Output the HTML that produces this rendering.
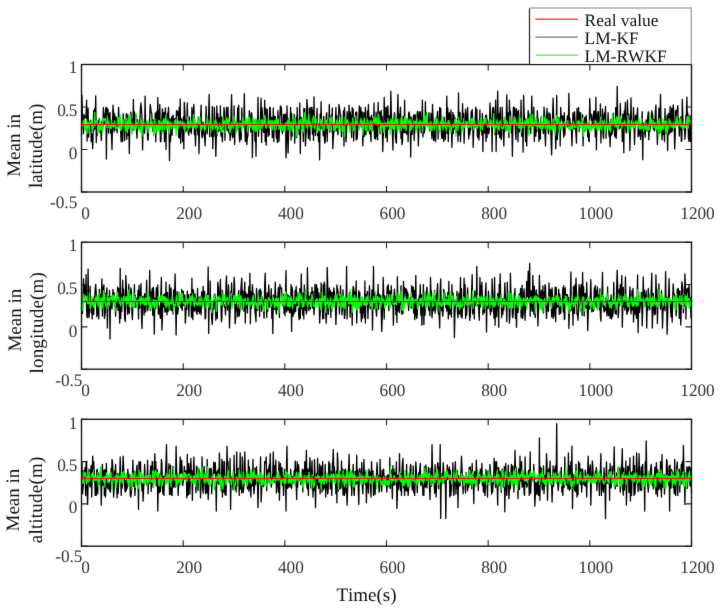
<!DOCTYPE html><html><head><meta charset="utf-8"><style>html,body{margin:0;padding:0;background:#fff}body{width:722px;height:610px;overflow:hidden}svg{display:block}#w{width:722px;height:610px}text{font-family:"Liberation Serif",serif;text-rendering:geometricPrecision;font-kerning:none}</style></head><body>
<div id="w">
<svg width="722" height="610" viewBox="0 0 722 610">
<defs><filter id="bl" x="-1%" y="-1%" width="102%" height="102%" color-interpolation-filters="sRGB"><feConvolveMatrix order="3" kernelMatrix="0.01 0.06 0.01 0.06 0.72 0.06 0.01 0.06 0.01" edgeMode="duplicate" preserveAlpha="true"/></filter></defs><g filter="url(#bl)"><rect x="-10" y="-10" width="742" height="630" fill="#fff"/>
<path d="M81.5 135.3 82.0 95.4 82.5 117.2 83.0 119.4 83.5 133.5 84.0 114.5 84.6 117.9 85.1 117.9 85.6 117.5 86.1 114.2 86.6 100.2 87.1 141.1 87.6 124.1 88.1 108.1 88.6 137.0 89.1 121.5 89.6 130.9 90.1 124.7 90.7 120.1 91.2 141.5 91.7 133.8 92.2 137.6 92.7 148.7 93.2 130.9 93.7 110.3 94.2 130.1 94.7 108.5 95.2 128.3 95.7 95.8 96.3 142.5 96.8 124.4 97.3 135.0 97.8 121.4 98.3 120.9 98.8 122.3 99.3 118.7 99.8 132.2 100.3 127.3 100.8 130.7 101.3 140.4 101.9 121.1 102.4 130.4 102.9 125.2 103.4 107.5 103.9 122.3 104.4 123.5 104.9 114.5 105.4 112.8 105.9 107.5 106.4 159.1 106.9 107.7 107.4 125.7 108.0 109.2 108.5 133.2 109.0 114.1 109.5 117.4 110.0 112.5 110.5 133.1 111.0 127.7 111.5 135.7 112.0 149.4 112.5 124.7 113.0 105.1 113.6 114.1 114.1 131.8 114.6 113.6 115.1 129.9 115.6 121.6 116.1 116.8 116.6 128.3 117.1 132.8 117.6 118.4 118.1 126.2 118.6 107.2 119.1 118.6 119.7 126.5 120.2 120.9 120.7 133.5 121.2 141.8 121.7 133.4 122.2 128.1 122.7 141.5 123.2 113.7 123.7 123.6 124.2 120.2 124.7 140.4 125.3 123.1 125.8 128.2 126.3 113.3 126.8 139.2 127.3 121.2 127.8 114.6 128.3 135.6 128.8 123.5 129.3 153.6 129.8 124.1 130.3 121.4 130.8 112.2 131.4 122.9 131.9 130.9 132.4 119.1 132.9 124.5 133.4 99.5 133.9 130.2 134.4 112.0 134.9 122.9 135.4 122.2 135.9 115.1 136.4 129.5 137.0 138.3 137.5 119.7 138.0 125.3 138.5 124.1 139.0 128.3 139.5 127.4 140.0 116.4 140.5 107.5 141.0 103.0 141.5 110.3 142.0 117.6 142.6 150.1 143.1 122.8 143.6 131.4 144.1 126.4 144.6 133.2 145.1 96.1 145.6 125.2 146.1 122.1 146.6 127.1 147.1 122.7 147.6 139.0 148.1 140.4 148.7 126.0 149.2 124.1 149.7 117.8 150.2 104.4 150.7 107.5 151.2 112.8 151.7 113.0 152.2 123.1 152.7 131.1 153.2 119.8 153.7 131.3 154.3 122.3 154.8 122.3 155.3 112.9 155.8 141.8 156.3 123.1 156.8 111.5 157.3 125.6 157.8 97.7 158.3 129.3 158.8 110.9 159.3 124.2 159.8 104.4 160.4 141.5 160.9 141.8 161.4 121.6 161.9 119.0 162.4 108.9 162.9 131.0 163.4 119.8 163.9 112.4 164.4 141.5 164.9 119.5 165.4 107.9 166.0 149.4 166.5 115.8 167.0 120.6 167.5 113.1 168.0 118.4 168.5 107.2 169.0 125.7 169.5 160.5 170.0 119.0 170.5 141.5 171.0 126.2 171.6 117.2 172.1 135.3 172.6 116.6 173.1 115.3 173.6 123.8 174.1 125.9 174.6 119.3 175.1 118.5 175.6 126.8 176.1 120.3 176.6 110.6 177.1 115.1 177.7 111.4 178.2 112.2 178.7 137.4 179.2 107.5 179.7 138.0 180.2 98.9 180.7 143.2 181.2 118.6 181.7 120.3 182.2 122.2 182.7 141.5 183.3 116.9 183.8 148.7 184.3 102.3 184.8 110.3 185.3 125.9 185.8 131.6 186.3 120.4 186.8 129.5 187.3 103.0 187.8 127.9 188.3 132.9 188.8 135.2 189.4 116.9 189.9 123.5 190.4 131.6 190.9 129.9 191.4 133.5 191.9 107.5 192.4 120.9 192.9 122.8 193.4 110.2 193.9 104.4 194.4 134.7 195.0 129.2 195.5 145.9 196.0 126.4 196.5 127.7 197.0 123.1 197.5 128.7 198.0 134.9 198.5 117.6 199.0 153.6 199.5 127.4 200.0 119.8 200.5 120.7 201.1 105.1 201.6 131.6 202.1 137.9 202.6 136.0 203.1 121.9 203.6 129.4 204.1 133.6 204.6 137.3 205.1 145.9 205.6 128.8 206.1 106.5 206.7 125.6 207.2 133.8 207.7 120.8 208.2 123.7 208.7 112.6 209.2 94.4 209.7 136.7 210.2 126.1 210.7 126.0 211.2 125.7 211.7 136.6 212.3 106.5 212.8 148.7 213.3 121.7 213.8 136.2 214.3 107.5 214.8 118.8 215.3 129.6 215.8 156.3 216.3 139.3 216.8 105.8 217.3 135.1 217.8 113.9 218.4 131.9 218.9 118.0 219.4 122.6 219.9 130.4 220.4 105.8 220.9 136.0 221.4 117.1 221.9 134.2 222.4 141.8 222.9 118.5 223.4 129.4 224.0 107.5 224.5 111.9 225.0 140.3 225.5 123.4 226.0 126.2 226.5 107.5 227.0 130.0 227.5 130.7 228.0 107.2 228.5 126.8 229.0 133.3 229.5 122.4 230.1 140.4 230.6 132.8 231.1 110.5 231.6 94.7 232.1 134.7 232.6 137.8 233.1 127.9 233.6 136.4 234.1 105.8 234.6 144.6 235.1 126.2 235.7 130.0 236.2 123.0 236.7 130.1 237.2 124.1 237.7 107.8 238.2 125.0 238.7 105.1 239.2 135.4 239.7 141.8 240.2 126.3 240.7 120.9 241.2 139.8 241.8 107.9 242.3 123.8 242.8 119.8 243.3 122.3 243.8 127.3 244.3 93.6 244.8 125.0 245.3 141.5 245.8 136.7 246.3 125.2 246.8 144.6 247.4 137.2 247.9 136.1 248.4 121.3 248.9 122.3 249.4 110.6 249.9 118.0 250.4 124.1 250.9 132.1 251.4 112.7 251.9 114.9 252.4 157.7 253.0 120.1 253.5 123.0 254.0 122.0 254.5 121.1 255.0 141.2 255.5 125.4 256.0 156.3 256.5 120.4 257.0 120.9 257.5 126.8 258.0 97.5 258.5 136.3 259.1 121.2 259.6 128.2 260.1 127.1 260.6 113.8 261.1 98.2 261.6 142.5 262.1 108.0 262.6 117.2 263.1 123.5 263.6 132.4 264.1 132.4 264.7 100.2 265.2 141.5 265.7 108.2 266.2 145.2 266.7 127.7 267.2 109.2 267.7 122.2 268.2 136.3 268.7 130.9 269.2 134.9 269.7 107.2 270.2 107.5 270.8 123.8 271.3 126.6 271.8 117.4 272.3 137.6 272.8 131.4 273.3 107.9 273.8 141.5 274.3 116.3 274.8 127.5 275.3 116.6 275.8 124.9 276.4 138.0 276.9 130.9 277.4 142.5 277.9 110.6 278.4 120.4 278.9 141.5 279.4 132.5 279.9 115.9 280.4 105.8 280.9 114.9 281.4 107.2 282.0 130.6 282.5 133.5 283.0 129.5 283.5 114.3 284.0 128.2 284.5 120.9 285.0 114.5 285.5 114.0 286.0 157.7 286.5 141.5 287.0 105.8 287.5 129.4 288.1 152.9 288.6 131.6 289.1 128.1 289.6 123.0 290.1 124.3 290.6 107.5 291.1 140.2 291.6 113.4 292.1 136.2 292.6 119.8 293.1 123.6 293.7 122.1 294.2 114.3 294.7 143.2 295.2 129.2 295.7 125.0 296.2 117.5 296.7 137.6 297.2 107.5 297.7 127.4 298.2 130.0 298.7 127.4 299.2 134.5 299.8 103.0 300.3 153.6 300.8 119.7 301.3 117.3 301.8 127.9 302.3 127.0 302.8 120.0 303.3 141.5 303.8 108.5 304.3 114.4 304.8 108.7 305.4 145.9 305.9 137.2 306.4 130.0 306.9 99.5 307.4 107.5 307.9 125.9 308.4 138.4 308.9 122.8 309.4 107.9 309.9 140.4 310.4 120.8 310.9 107.5 311.5 124.3 312.0 107.5 312.5 134.4 313.0 110.5 313.5 140.4 314.0 96.8 314.5 131.5 315.0 125.6 315.5 135.5 316.0 123.9 316.5 121.6 317.1 108.5 317.6 135.7 318.1 131.1 318.6 141.5 319.1 123.7 319.6 159.8 320.1 114.5 320.6 129.5 321.1 101.6 321.6 128.0 322.1 124.7 322.7 126.4 323.2 135.7 323.7 116.4 324.2 132.7 324.7 143.2 325.2 141.5 325.7 129.3 326.2 116.8 326.7 112.7 327.2 141.5 327.7 122.8 328.2 123.0 328.8 122.2 329.3 104.4 329.8 132.2 330.3 123.0 330.8 119.5 331.3 115.5 331.8 125.6 332.3 107.9 332.8 148.7 333.3 137.8 333.8 131.5 334.4 130.9 334.9 124.9 335.4 123.1 335.9 107.5 336.4 130.7 336.9 115.7 337.4 128.4 337.9 134.7 338.4 128.1 338.9 104.4 339.4 107.5 339.9 110.7 340.5 116.4 341.0 125.2 341.5 136.6 342.0 127.4 342.5 130.3 343.0 131.5 343.5 110.6 344.0 145.9 344.5 107.5 345.0 126.1 345.5 123.3 346.1 141.8 346.6 130.4 347.1 111.7 347.6 119.2 348.1 123.2 348.6 118.8 349.1 105.1 349.6 126.1 350.1 112.0 350.6 114.6 351.1 122.4 351.7 137.4 352.2 107.5 352.7 119.5 353.2 109.2 353.7 141.1 354.2 118.1 354.7 118.0 355.2 120.5 355.7 112.3 356.2 139.8 356.7 112.0 357.2 139.0 357.8 128.1 358.3 123.5 358.8 119.3 359.3 105.8 359.8 126.9 360.3 117.8 360.8 107.5 361.3 117.0 361.8 126.8 362.3 111.9 362.8 145.9 363.4 130.7 363.9 112.7 364.4 136.2 364.9 118.8 365.4 107.5 365.9 134.7 366.4 127.8 366.9 131.1 367.4 110.9 367.9 130.2 368.4 104.4 368.9 119.9 369.5 133.5 370.0 117.2 370.5 132.8 371.0 141.5 371.5 115.1 372.0 123.8 372.5 118.4 373.0 130.1 373.5 124.5 374.0 103.0 374.5 138.3 375.1 126.4 375.6 139.1 376.1 112.1 376.6 136.2 377.1 133.5 377.6 139.9 378.1 102.3 378.6 123.1 379.1 126.1 379.6 112.0 380.1 133.8 380.6 117.3 381.2 110.3 381.7 129.9 382.2 116.3 382.7 151.5 383.2 137.2 383.7 130.3 384.2 97.5 384.7 119.6 385.2 107.5 385.7 137.6 386.2 124.3 386.8 107.5 387.3 141.8 387.8 105.8 388.3 118.8 388.8 129.1 389.3 115.9 389.8 120.9 390.3 125.3 390.8 91.2 391.3 112.3 391.8 123.0 392.4 131.5 392.9 150.1 393.4 121.6 393.9 120.3 394.4 112.7 394.9 116.0 395.4 135.8 395.9 141.4 396.4 143.2 396.9 121.3 397.4 115.4 397.9 94.4 398.5 127.9 399.0 114.7 399.5 124.9 400.0 113.8 400.5 107.2 401.0 138.4 401.5 132.0 402.0 144.6 402.5 141.5 403.0 116.5 403.5 125.9 404.1 132.7 404.6 100.2 405.1 132.7 405.6 130.4 406.1 127.2 406.6 134.2 407.1 119.3 407.6 120.5 408.1 141.5 408.6 113.4 409.1 112.0 409.6 115.6 410.2 119.8 410.7 157.0 411.2 117.2 411.7 128.7 412.2 134.4 412.7 124.0 413.2 118.2 413.7 114.8 414.2 140.4 414.7 118.8 415.2 114.7 415.8 129.6 416.3 122.5 416.8 124.4 417.3 111.9 417.8 111.3 418.3 145.9 418.8 132.3 419.3 112.9 419.8 111.7 420.3 112.1 420.8 126.5 421.3 132.7 421.9 117.7 422.4 100.2 422.9 136.9 423.4 130.9 423.9 121.3 424.4 132.9 424.9 128.3 425.4 101.6 425.9 125.2 426.4 112.8 426.9 122.4 427.5 120.6 428.0 122.8 428.5 121.0 429.0 112.7 429.5 130.7 430.0 122.8 430.5 129.1 431.0 113.2 431.5 132.1 432.0 138.8 432.5 104.4 433.1 120.2 433.6 140.4 434.1 121.9 434.6 124.6 435.1 139.6 435.6 141.5 436.1 121.2 436.6 124.5 437.1 116.6 437.6 111.3 438.1 139.0 438.6 123.4 439.2 120.3 439.7 107.5 440.2 124.7 440.7 108.5 441.2 128.5 441.7 138.3 442.2 125.3 442.7 138.3 443.2 134.6 443.7 141.5 444.2 117.2 444.8 125.5 445.3 139.7 445.8 129.8 446.3 128.2 446.8 96.1 447.3 133.4 447.8 108.2 448.3 141.5 448.8 121.0 449.3 112.7 449.8 128.8 450.3 123.2 450.9 109.8 451.4 124.4 451.9 147.3 452.4 131.1 452.9 112.4 453.4 133.6 453.9 114.8 454.4 128.6 454.9 117.6 455.4 129.4 455.9 130.9 456.5 132.8 457.0 127.0 457.5 119.0 458.0 141.5 458.5 93.0 459.0 135.0 459.5 121.2 460.0 112.5 460.5 141.8 461.0 127.4 461.5 121.8 462.1 120.1 462.6 103.7 463.1 129.0 463.6 113.4 464.1 143.2 464.6 125.9 465.1 119.9 465.6 109.2 466.1 117.4 466.6 120.4 467.1 121.5 467.6 107.5 468.2 123.8 468.7 138.9 469.2 126.3 469.7 134.9 470.2 129.6 470.7 129.9 471.2 111.3 471.7 119.0 472.2 109.3 472.7 121.9 473.2 147.3 473.8 126.5 474.3 127.1 474.8 127.5 475.3 117.2 475.8 107.2 476.3 125.8 476.8 109.5 477.3 135.0 477.8 137.6 478.3 124.2 478.8 140.0 479.3 133.1 479.9 109.9 480.4 130.8 480.9 123.7 481.4 125.2 481.9 135.1 482.4 113.5 482.9 151.5 483.4 120.5 483.9 119.6 484.4 132.2 484.9 133.3 485.5 115.6 486.0 141.5 486.5 115.2 487.0 137.6 487.5 119.9 488.0 124.4 488.5 133.8 489.0 132.5 489.5 125.8 490.0 103.0 490.5 112.8 491.0 121.8 491.6 119.3 492.1 151.5 492.6 107.9 493.1 119.6 493.6 107.5 494.1 115.1 494.6 123.9 495.1 134.7 495.6 100.2 496.1 151.5 496.6 121.2 497.2 114.7 497.7 91.2 498.2 134.3 498.7 133.4 499.2 113.4 499.7 137.6 500.2 107.5 500.7 131.7 501.2 139.6 501.7 135.4 502.2 107.2 502.8 128.1 503.3 121.5 503.8 145.9 504.3 127.0 504.8 131.4 505.3 121.5 505.8 129.1 506.3 115.5 506.8 95.0 507.3 130.0 507.8 113.0 508.3 113.1 508.9 137.6 509.4 100.2 509.9 115.0 510.4 111.2 510.9 122.0 511.4 132.9 511.9 125.6 512.4 156.3 512.9 123.2 513.4 107.2 513.9 115.1 514.5 107.5 515.0 109.8 515.5 132.6 516.0 139.5 516.5 108.7 517.0 120.8 517.5 112.0 518.0 141.8 518.5 110.5 519.0 129.0 519.5 131.9 520.0 126.3 520.6 123.5 521.1 100.2 521.6 136.2 522.1 124.7 522.6 124.0 523.1 152.2 523.6 95.4 524.1 113.6 524.6 119.4 525.1 118.6 525.6 141.5 526.2 123.8 526.7 145.9 527.2 123.5 527.7 121.3 528.2 110.6 528.7 120.3 529.2 114.3 529.7 129.4 530.2 114.3 530.7 133.5 531.2 122.5 531.8 96.1 532.3 124.6 532.8 126.2 533.3 121.9 533.8 107.2 534.3 141.5 534.8 125.4 535.3 132.0 535.8 136.2 536.3 122.9 536.8 131.5 537.3 110.6 537.9 123.2 538.4 119.3 538.9 141.5 539.4 127.9 539.9 133.7 540.4 139.0 540.9 117.5 541.4 126.8 541.9 125.5 542.4 125.5 542.9 129.3 543.5 133.5 544.0 107.2 544.5 113.9 545.0 134.1 545.5 145.9 546.0 116.7 546.5 119.4 547.0 108.5 547.5 119.2 548.0 130.2 548.5 133.9 549.0 112.7 549.6 118.7 550.1 114.0 550.6 124.5 551.1 141.5 551.6 154.9 552.1 131.0 552.6 115.1 553.1 98.2 553.6 115.8 554.1 122.3 554.6 121.8 555.2 122.0 555.7 148.7 556.2 134.5 556.7 95.4 557.2 139.6 557.7 131.1 558.2 131.3 558.7 117.5 559.2 132.2 559.7 118.9 560.2 145.9 560.7 107.5 561.3 118.2 561.8 116.1 562.3 120.8 562.8 115.8 563.3 131.0 563.8 137.2 564.3 112.7 564.8 134.9 565.3 125.8 565.8 126.6 566.3 125.7 566.9 122.6 567.4 115.8 567.9 127.3 568.4 121.1 568.9 93.3 569.4 125.9 569.9 118.5 570.4 129.8 570.9 123.6 571.4 126.6 571.9 145.9 572.5 127.5 573.0 112.7 573.5 121.8 574.0 129.1 574.5 111.6 575.0 120.3 575.5 128.2 576.0 134.6 576.5 143.2 577.0 108.5 577.5 125.5 578.0 123.3 578.6 107.5 579.1 131.6 579.6 122.2 580.1 112.7 580.6 112.9 581.1 125.4 581.6 121.4 582.1 126.5 582.6 114.7 583.1 145.9 583.6 121.5 584.2 131.1 584.7 117.3 585.2 130.7 585.7 121.8 586.2 115.5 586.7 125.3 587.2 125.0 587.7 136.8 588.2 130.2 588.7 141.0 589.2 141.5 589.7 98.7 590.3 114.2 590.8 114.2 591.3 120.1 591.8 115.0 592.3 124.4 592.8 125.6 593.3 119.4 593.8 111.4 594.3 111.0 594.8 120.1 595.3 136.8 595.9 97.2 596.4 149.8 596.9 114.4 597.4 124.7 597.9 111.8 598.4 111.7 598.9 125.8 599.4 118.0 599.9 124.6 600.4 104.0 600.9 142.9 601.4 122.4 602.0 122.2 602.5 108.9 603.0 132.9 603.5 138.5 604.0 115.5 604.5 112.9 605.0 118.3 605.5 106.3 606.0 138.3 606.5 121.8 607.0 122.9 607.6 126.8 608.1 112.7 608.6 129.2 609.1 136.3 609.6 123.9 610.1 146.7 610.6 132.6 611.1 118.8 611.6 135.1 612.1 133.4 612.6 129.9 613.2 113.2 613.7 128.3 614.2 127.6 614.7 136.2 615.2 137.0 615.7 107.5 616.2 138.3 616.7 128.2 617.2 86.5 617.7 122.5 618.2 123.2 618.7 127.9 619.3 126.9 619.8 128.6 620.3 103.3 620.8 127.2 621.3 120.3 621.8 119.7 622.3 141.5 622.8 114.0 623.3 122.3 623.8 152.8 624.3 110.8 624.9 115.5 625.4 102.5 625.9 130.4 626.4 132.8 626.9 125.9 627.4 100.2 627.9 115.3 628.4 118.6 628.9 114.5 629.4 122.6 629.9 150.5 630.4 126.7 631.0 98.0 631.5 126.0 632.0 121.3 632.5 122.5 633.0 124.6 633.5 107.5 634.0 123.4 634.5 144.4 635.0 126.4 635.5 115.2 636.0 116.5 636.6 123.6 637.1 114.8 637.6 107.9 638.1 136.5 638.6 136.1 639.1 133.4 639.6 123.4 640.1 131.5 640.6 139.4 641.1 130.4 641.6 125.0 642.2 111.7 642.7 159.7 643.2 126.3 643.7 123.1 644.2 126.6 644.7 132.2 645.2 137.2 645.7 125.5 646.2 119.9 646.7 130.6 647.2 130.1 647.7 117.4 648.3 111.7 648.8 139.8 649.3 130.0 649.8 131.6 650.3 127.5 650.8 123.3 651.3 121.9 651.8 110.9 652.3 113.2 652.8 116.9 653.3 129.0 653.9 120.0 654.4 130.9 654.9 125.5 655.4 111.4 655.9 104.8 656.4 129.8 656.9 129.3 657.4 144.4 657.9 122.2 658.4 125.8 658.9 108.2 659.4 133.2 660.0 117.7 660.5 94.4 661.0 121.2 661.5 126.1 662.0 139.8 662.5 130.3 663.0 127.4 663.5 134.4 664.0 130.5 664.5 141.5 665.0 108.6 665.6 133.1 666.1 127.6 666.6 132.8 667.1 115.1 667.6 150.5 668.1 126.1 668.6 113.3 669.1 134.2 669.6 123.3 670.1 106.3 670.6 132.6 671.1 131.8 671.7 108.2 672.2 131.2 672.7 117.7 673.2 104.8 673.7 111.1 674.2 126.5 674.7 149.0 675.2 135.2 675.7 110.7 676.2 118.3 676.7 110.3 677.3 109.4 677.8 105.6 678.3 124.2 678.8 118.6 679.3 136.0 679.8 127.1 680.3 124.3 680.8 117.0 681.3 141.4 681.8 141.0 682.3 99.5 682.9 118.8 683.4 128.2 683.9 129.1 684.4 124.5 684.9 139.2 685.4 132.0 685.9 115.1 686.4 115.0 686.9 97.2 687.4 119.9 687.9 113.1 688.4 137.8 689.0 141.4 689.5 129.6 690.0 115.5 690.5 141.5 691.0 118.6 691.5 117.8" fill="none" stroke="#000" stroke-width="1.3" stroke-linejoin="round"/>
<path d="M81.5 123.2 82.0 126.3 82.5 126.6 83.0 123.3 83.5 120.2 84.0 122.9 84.6 125.7 85.1 130.8 85.6 127.8 86.1 127.3 86.6 119.6 87.1 133.6 87.6 122.2 88.1 126.6 88.6 122.4 89.1 132.7 89.6 125.3 90.1 122.1 90.7 124.4 91.2 120.5 91.7 122.7 92.2 123.4 92.7 130.0 93.2 126.4 93.7 127.4 94.2 125.2 94.7 112.6 95.2 125.8 95.7 121.4 96.3 122.0 96.8 120.9 97.3 121.4 97.8 133.5 98.3 124.3 98.8 131.5 99.3 131.2 99.8 119.8 100.3 124.9 100.8 129.7 101.3 130.0 101.9 123.7 102.4 132.8 102.9 117.8 103.4 121.2 103.9 119.9 104.4 118.8 104.9 120.2 105.4 118.5 105.9 125.8 106.4 123.4 106.9 127.8 107.4 116.0 108.0 123.2 108.5 121.9 109.0 127.7 109.5 125.9 110.0 125.7 110.5 128.0 111.0 129.0 111.5 120.1 112.0 126.8 112.5 123.3 113.0 124.4 113.6 126.8 114.1 126.4 114.6 120.9 115.1 124.4 115.6 129.0 116.1 128.2 116.6 127.2 117.1 128.9 117.6 118.9 118.1 124.6 118.6 117.3 119.1 128.0 119.7 127.0 120.2 114.8 120.7 130.7 121.2 127.7 121.7 128.7 122.2 125.5 122.7 123.2 123.2 120.3 123.7 119.8 124.2 126.5 124.7 123.8 125.3 130.5 125.8 122.2 126.3 131.2 126.8 117.9 127.3 133.2 127.8 121.4 128.3 123.6 128.8 128.7 129.3 115.3 129.8 126.7 130.3 115.0 130.8 125.2 131.4 123.4 131.9 133.9 132.4 127.5 132.9 123.7 133.4 128.1 133.9 127.8 134.4 129.7 134.9 125.5 135.4 127.6 135.9 113.1 136.4 128.2 137.0 124.4 137.5 122.5 138.0 125.0 138.5 122.7 139.0 130.0 139.5 128.5 140.0 129.7 140.5 132.2 141.0 121.4 141.5 125.0 142.0 136.4 142.6 126.0 143.1 119.6 143.6 126.2 144.1 123.3 144.6 123.2 145.1 123.9 145.6 129.1 146.1 127.8 146.6 126.9 147.1 120.7 147.6 126.2 148.1 132.8 148.7 121.7 149.2 126.9 149.7 126.6 150.2 126.9 150.7 120.0 151.2 126.3 151.7 126.3 152.2 121.7 152.7 125.5 153.2 130.6 153.7 136.1 154.3 124.4 154.8 118.4 155.3 133.4 155.8 132.6 156.3 129.6 156.8 123.8 157.3 124.7 157.8 131.7 158.3 126.7 158.8 120.3 159.3 129.4 159.8 120.6 160.4 129.3 160.9 127.4 161.4 122.2 161.9 124.8 162.4 133.3 162.9 120.4 163.4 122.9 163.9 118.7 164.4 129.8 164.9 119.0 165.4 124.3 166.0 115.0 166.5 129.2 167.0 127.8 167.5 125.5 168.0 129.2 168.5 121.3 169.0 122.5 169.5 133.7 170.0 126.5 170.5 122.1 171.0 123.1 171.6 128.7 172.1 124.0 172.6 124.4 173.1 126.4 173.6 124.1 174.1 128.6 174.6 120.7 175.1 127.0 175.6 119.6 176.1 135.8 176.6 125.9 177.1 124.5 177.7 123.8 178.2 128.4 178.7 121.3 179.2 125.4 179.7 125.9 180.2 120.9 180.7 121.2 181.2 123.7 181.7 126.0 182.2 125.5 182.7 121.7 183.3 123.5 183.8 129.0 184.3 123.0 184.8 131.1 185.3 125.1 185.8 124.8 186.3 124.0 186.8 126.3 187.3 127.6 187.8 116.9 188.3 130.0 188.8 125.6 189.4 121.3 189.9 127.6 190.4 125.8 190.9 120.6 191.4 123.3 191.9 126.8 192.4 127.9 192.9 126.3 193.4 114.4 193.9 127.6 194.4 125.7 195.0 119.1 195.5 128.9 196.0 126.6 196.5 125.7 197.0 123.6 197.5 127.1 198.0 116.4 198.5 123.5 199.0 121.7 199.5 124.9 200.0 117.0 200.5 130.2 201.1 131.2 201.6 125.3 202.1 128.2 202.6 124.7 203.1 125.2 203.6 124.7 204.1 129.1 204.6 126.2 205.1 123.6 205.6 129.8 206.1 125.4 206.7 123.2 207.2 117.1 207.7 121.0 208.2 125.9 208.7 126.7 209.2 123.2 209.7 122.7 210.2 119.3 210.7 132.6 211.2 120.8 211.7 123.6 212.3 125.6 212.8 129.7 213.3 126.8 213.8 125.0 214.3 121.4 214.8 120.8 215.3 128.8 215.8 119.7 216.3 127.1 216.8 122.7 217.3 134.2 217.8 126.3 218.4 129.1 218.9 126.9 219.4 125.6 219.9 122.9 220.4 126.0 220.9 130.6 221.4 127.2 221.9 132.4 222.4 131.8 222.9 116.2 223.4 126.1 224.0 121.2 224.5 122.5 225.0 121.2 225.5 133.2 226.0 121.9 226.5 117.9 227.0 118.9 227.5 124.2 228.0 120.2 228.5 128.1 229.0 118.2 229.5 128.1 230.1 132.6 230.6 125.5 231.1 129.6 231.6 122.4 232.1 124.5 232.6 126.6 233.1 124.3 233.6 128.6 234.1 116.1 234.6 125.0 235.1 120.0 235.7 123.0 236.2 132.5 236.7 123.3 237.2 125.2 237.7 122.2 238.2 127.8 238.7 126.1 239.2 124.2 239.7 123.4 240.2 126.0 240.7 123.1 241.2 125.7 241.8 131.8 242.3 120.8 242.8 117.1 243.3 122.4 243.8 127.6 244.3 124.6 244.8 121.1 245.3 122.9 245.8 122.9 246.3 120.8 246.8 118.5 247.4 131.6 247.9 127.1 248.4 125.3 248.9 117.0 249.4 117.4 249.9 118.7 250.4 127.2 250.9 122.6 251.4 126.5 251.9 124.3 252.4 129.6 253.0 117.6 253.5 125.8 254.0 129.9 254.5 120.7 255.0 119.4 255.5 131.5 256.0 118.4 256.5 126.6 257.0 131.4 257.5 122.9 258.0 129.8 258.5 120.2 259.1 125.6 259.6 124.3 260.1 129.3 260.6 128.7 261.1 119.9 261.6 119.8 262.1 128.0 262.6 119.8 263.1 123.6 263.6 125.9 264.1 123.7 264.7 115.2 265.2 117.9 265.7 127.8 266.2 128.2 266.7 124.4 267.2 124.1 267.7 124.7 268.2 118.9 268.7 120.8 269.2 125.2 269.7 128.0 270.2 120.5 270.8 121.2 271.3 126.8 271.8 127.7 272.3 120.5 272.8 129.9 273.3 122.1 273.8 122.5 274.3 120.9 274.8 129.5 275.3 124.7 275.8 119.7 276.4 121.1 276.9 119.1 277.4 125.7 277.9 123.3 278.4 119.1 278.9 129.4 279.4 127.7 279.9 124.8 280.4 128.9 280.9 123.6 281.4 128.1 282.0 124.2 282.5 130.3 283.0 129.2 283.5 128.1 284.0 124.4 284.5 125.1 285.0 132.1 285.5 122.3 286.0 126.0 286.5 124.8 287.0 123.5 287.5 120.7 288.1 130.2 288.6 117.8 289.1 122.2 289.6 125.9 290.1 129.1 290.6 123.6 291.1 121.4 291.6 126.0 292.1 131.3 292.6 132.0 293.1 116.4 293.7 126.0 294.2 123.8 294.7 124.5 295.2 117.0 295.7 124.0 296.2 136.4 296.7 128.7 297.2 125.5 297.7 132.5 298.2 123.7 298.7 120.0 299.2 128.8 299.8 122.1 300.3 121.4 300.8 119.4 301.3 125.4 301.8 127.1 302.3 130.1 302.8 119.2 303.3 132.1 303.8 124.7 304.3 112.6 304.8 118.4 305.4 123.1 305.9 118.6 306.4 127.2 306.9 121.3 307.4 128.7 307.9 125.1 308.4 118.2 308.9 113.9 309.4 126.2 309.9 122.2 310.4 121.9 310.9 130.1 311.5 127.5 312.0 127.7 312.5 119.3 313.0 118.9 313.5 115.8 314.0 117.9 314.5 128.2 315.0 129.0 315.5 117.0 316.0 119.3 316.5 121.5 317.1 121.8 317.6 132.5 318.1 125.7 318.6 130.7 319.1 128.4 319.6 130.5 320.1 125.1 320.6 119.2 321.1 124.9 321.6 125.4 322.1 119.9 322.7 127.1 323.2 129.9 323.7 130.1 324.2 125.0 324.7 123.9 325.2 124.8 325.7 121.1 326.2 119.9 326.7 122.4 327.2 128.7 327.7 123.5 328.2 125.4 328.8 128.6 329.3 129.8 329.8 117.6 330.3 120.1 330.8 119.0 331.3 132.0 331.8 116.3 332.3 121.7 332.8 123.1 333.3 123.4 333.8 130.4 334.4 125.4 334.9 125.1 335.4 131.1 335.9 124.7 336.4 120.6 336.9 127.7 337.4 118.9 337.9 125.7 338.4 121.9 338.9 130.7 339.4 122.3 339.9 124.0 340.5 123.9 341.0 119.2 341.5 115.4 342.0 131.5 342.5 121.7 343.0 131.2 343.5 128.4 344.0 126.5 344.5 136.4 345.0 117.0 345.5 124.2 346.1 124.1 346.6 122.1 347.1 120.2 347.6 119.5 348.1 123.2 348.6 122.2 349.1 126.5 349.6 129.4 350.1 132.4 350.6 124.1 351.1 124.3 351.7 123.1 352.2 125.2 352.7 117.8 353.2 126.4 353.7 130.5 354.2 128.8 354.7 129.1 355.2 121.1 355.7 116.0 356.2 125.0 356.7 122.5 357.2 121.4 357.8 125.0 358.3 125.3 358.8 125.4 359.3 129.8 359.8 125.5 360.3 120.3 360.8 118.4 361.3 123.0 361.8 126.9 362.3 121.2 362.8 135.0 363.4 126.6 363.9 120.1 364.4 118.0 364.9 124.6 365.4 130.0 365.9 123.6 366.4 130.1 366.9 131.2 367.4 119.2 367.9 121.3 368.4 124.6 368.9 122.8 369.5 130.4 370.0 127.1 370.5 120.3 371.0 129.4 371.5 123.4 372.0 132.3 372.5 121.4 373.0 121.8 373.5 121.5 374.0 116.3 374.5 123.0 375.1 118.0 375.6 123.6 376.1 119.3 376.6 117.9 377.1 125.0 377.6 125.7 378.1 124.8 378.6 114.5 379.1 123.2 379.6 122.2 380.1 120.8 380.6 131.9 381.2 123.4 381.7 129.1 382.2 122.9 382.7 127.0 383.2 123.6 383.7 132.5 384.2 130.2 384.7 129.4 385.2 122.3 385.7 126.2 386.2 126.2 386.8 123.4 387.3 126.5 387.8 118.5 388.3 126.1 388.8 121.6 389.3 122.2 389.8 123.6 390.3 134.3 390.8 118.8 391.3 123.4 391.8 127.3 392.4 119.0 392.9 128.8 393.4 123.2 393.9 129.4 394.4 121.0 394.9 128.8 395.4 114.0 395.9 125.0 396.4 125.3 396.9 119.2 397.4 132.4 397.9 119.4 398.5 128.8 399.0 126.3 399.5 131.9 400.0 128.5 400.5 123.3 401.0 118.1 401.5 125.1 402.0 127.1 402.5 121.9 403.0 119.5 403.5 127.5 404.1 128.8 404.6 116.9 405.1 116.5 405.6 128.9 406.1 130.6 406.6 123.1 407.1 118.1 407.6 118.7 408.1 120.1 408.6 123.3 409.1 124.2 409.6 121.4 410.2 131.1 410.7 119.7 411.2 122.7 411.7 129.1 412.2 128.2 412.7 123.6 413.2 126.4 413.7 121.1 414.2 121.4 414.7 123.2 415.2 121.5 415.8 132.8 416.3 123.3 416.8 117.9 417.3 128.7 417.8 127.4 418.3 125.0 418.8 122.5 419.3 122.0 419.8 127.9 420.3 120.3 420.8 124.5 421.3 125.0 421.9 122.3 422.4 132.0 422.9 121.5 423.4 125.1 423.9 125.1 424.4 113.0 424.9 125.9 425.4 116.4 425.9 125.7 426.4 119.4 426.9 113.9 427.5 123.8 428.0 126.9 428.5 124.0 429.0 128.8 429.5 122.5 430.0 129.8 430.5 125.6 431.0 121.3 431.5 130.5 432.0 130.5 432.5 126.8 433.1 126.2 433.6 122.3 434.1 127.6 434.6 130.0 435.1 117.5 435.6 121.0 436.1 124.1 436.6 126.3 437.1 118.6 437.6 121.0 438.1 122.0 438.6 127.5 439.2 132.8 439.7 130.7 440.2 130.7 440.7 121.5 441.2 125.1 441.7 120.4 442.2 116.0 442.7 129.3 443.2 125.1 443.7 127.2 444.2 122.1 444.8 126.1 445.3 122.3 445.8 128.5 446.3 130.9 446.8 124.6 447.3 122.4 447.8 126.2 448.3 120.4 448.8 121.2 449.3 128.2 449.8 122.1 450.3 131.2 450.9 133.3 451.4 129.1 451.9 126.0 452.4 125.2 452.9 126.4 453.4 127.8 453.9 123.2 454.4 126.0 454.9 119.2 455.4 118.8 455.9 136.4 456.5 124.8 457.0 122.8 457.5 120.8 458.0 130.4 458.5 117.5 459.0 125.9 459.5 120.9 460.0 121.7 460.5 122.2 461.0 123.9 461.5 128.5 462.1 123.4 462.6 123.1 463.1 132.0 463.6 118.6 464.1 124.6 464.6 127.5 465.1 125.1 465.6 124.8 466.1 122.9 466.6 122.4 467.1 121.7 467.6 127.2 468.2 127.6 468.7 127.3 469.2 120.8 469.7 126.2 470.2 127.0 470.7 123.3 471.2 118.5 471.7 125.6 472.2 122.8 472.7 118.2 473.2 126.1 473.8 129.7 474.3 123.0 474.8 121.3 475.3 125.6 475.8 126.0 476.3 125.3 476.8 127.0 477.3 128.1 477.8 124.1 478.3 126.2 478.8 120.3 479.3 125.4 479.9 123.7 480.4 131.1 480.9 117.6 481.4 126.8 481.9 120.9 482.4 129.6 482.9 125.0 483.4 123.6 483.9 119.4 484.4 124.2 484.9 119.4 485.5 118.1 486.0 120.0 486.5 124.1 487.0 125.4 487.5 127.1 488.0 126.9 488.5 124.4 489.0 123.1 489.5 127.5 490.0 120.9 490.5 119.5 491.0 120.3 491.6 123.9 492.1 126.9 492.6 127.0 493.1 122.6 493.6 113.6 494.1 120.3 494.6 132.6 495.1 125.6 495.6 126.8 496.1 127.5 496.6 122.0 497.2 119.6 497.7 129.4 498.2 124.5 498.7 122.9 499.2 130.5 499.7 122.1 500.2 122.2 500.7 120.2 501.2 126.3 501.7 128.2 502.2 128.7 502.8 127.0 503.3 125.9 503.8 128.9 504.3 117.2 504.8 122.1 505.3 119.6 505.8 131.7 506.3 120.9 506.8 125.6 507.3 122.0 507.8 129.8 508.3 131.8 508.9 125.2 509.4 132.7 509.9 115.9 510.4 128.4 510.9 125.1 511.4 122.5 511.9 122.9 512.4 122.2 512.9 122.5 513.4 124.5 513.9 119.7 514.5 122.2 515.0 124.1 515.5 118.2 516.0 125.2 516.5 125.3 517.0 124.6 517.5 123.0 518.0 124.6 518.5 127.7 519.0 122.0 519.5 114.8 520.0 128.9 520.6 118.0 521.1 132.3 521.6 122.7 522.1 127.6 522.6 123.3 523.1 123.9 523.6 122.7 524.1 127.8 524.6 125.9 525.1 120.9 525.6 124.9 526.2 124.9 526.7 119.3 527.2 125.3 527.7 120.9 528.2 118.1 528.7 135.2 529.2 127.9 529.7 126.6 530.2 113.1 530.7 120.0 531.2 127.2 531.8 125.8 532.3 114.4 532.8 120.7 533.3 125.9 533.8 123.1 534.3 122.8 534.8 126.0 535.3 118.6 535.8 121.4 536.3 125.8 536.8 119.1 537.3 129.7 537.9 126.8 538.4 124.2 538.9 122.0 539.4 126.9 539.9 123.9 540.4 128.6 540.9 126.2 541.4 115.3 541.9 128.9 542.4 122.0 542.9 128.6 543.5 124.5 544.0 121.1 544.5 116.5 545.0 128.6 545.5 118.3 546.0 119.3 546.5 127.0 547.0 119.3 547.5 129.9 548.0 124.6 548.5 121.1 549.0 126.7 549.6 131.5 550.1 125.0 550.6 128.3 551.1 128.9 551.6 125.3 552.1 128.9 552.6 130.1 553.1 119.0 553.6 128.7 554.1 122.6 554.6 131.4 555.2 135.2 555.7 125.8 556.2 121.4 556.7 115.5 557.2 123.8 557.7 122.4 558.2 122.4 558.7 118.0 559.2 133.7 559.7 126.9 560.2 121.9 560.7 123.3 561.3 129.6 561.8 129.3 562.3 124.3 562.8 124.2 563.3 126.3 563.8 124.6 564.3 122.5 564.8 121.8 565.3 127.1 565.8 126.5 566.3 125.0 566.9 123.5 567.4 123.7 567.9 120.7 568.4 127.6 568.9 129.4 569.4 127.7 569.9 127.6 570.4 129.5 570.9 125.0 571.4 123.6 571.9 129.1 572.5 129.1 573.0 124.4 573.5 121.4 574.0 123.5 574.5 127.2 575.0 126.2 575.5 127.7 576.0 127.3 576.5 123.9 577.0 122.5 577.5 121.0 578.0 123.1 578.6 131.1 579.1 120.3 579.6 123.1 580.1 125.7 580.6 122.9 581.1 127.9 581.6 127.4 582.1 117.8 582.6 120.6 583.1 134.8 583.6 136.4 584.2 123.7 584.7 128.6 585.2 130.3 585.7 123.9 586.2 129.1 586.7 128.3 587.2 122.6 587.7 123.3 588.2 128.8 588.7 124.8 589.2 120.2 589.7 132.7 590.3 124.3 590.8 124.5 591.3 129.8 591.8 130.8 592.3 124.6 592.8 127.8 593.3 124.5 593.8 127.0 594.3 127.8 594.8 126.1 595.3 120.5 595.9 126.9 596.4 122.0 596.9 129.5 597.4 123.1 597.9 125.1 598.4 127.3 598.9 130.3 599.4 122.7 599.9 127.0 600.4 117.1 600.9 129.3 601.4 129.8 602.0 127.4 602.5 122.4 603.0 120.6 603.5 123.4 604.0 126.4 604.5 125.6 605.0 133.1 605.5 131.9 606.0 124.0 606.5 120.7 607.0 128.3 607.6 126.2 608.1 128.1 608.6 123.8 609.1 130.2 609.6 121.9 610.1 126.1 610.6 131.9 611.1 125.5 611.6 119.1 612.1 124.9 612.6 113.7 613.2 124.6 613.7 124.0 614.2 122.6 614.7 126.7 615.2 119.0 615.7 121.4 616.2 126.9 616.7 116.3 617.2 128.4 617.7 117.7 618.2 129.7 618.7 124.8 619.3 125.6 619.8 120.2 620.3 116.4 620.8 125.0 621.3 123.9 621.8 128.1 622.3 122.6 622.8 126.2 623.3 123.7 623.8 123.2 624.3 120.3 624.9 125.3 625.4 122.0 625.9 125.7 626.4 125.3 626.9 124.9 627.4 127.3 627.9 115.3 628.4 133.0 628.9 124.5 629.4 120.9 629.9 124.9 630.4 126.4 631.0 129.9 631.5 120.4 632.0 127.1 632.5 124.2 633.0 126.4 633.5 121.4 634.0 123.6 634.5 127.6 635.0 125.5 635.5 123.0 636.0 120.7 636.6 123.6 637.1 122.2 637.6 129.0 638.1 126.0 638.6 118.5 639.1 119.7 639.6 128.1 640.1 129.7 640.6 128.5 641.1 123.5 641.6 118.7 642.2 128.7 642.7 126.8 643.2 128.0 643.7 131.3 644.2 122.2 644.7 127.6 645.2 127.3 645.7 129.8 646.2 122.8 646.7 127.9 647.2 129.5 647.7 131.7 648.3 125.4 648.8 124.5 649.3 129.8 649.8 112.6 650.3 124.1 650.8 125.3 651.3 119.2 651.8 125.6 652.3 125.7 652.8 121.4 653.3 120.7 653.9 127.5 654.4 122.8 654.9 125.6 655.4 128.8 655.9 121.9 656.4 129.9 656.9 127.2 657.4 129.1 657.9 120.5 658.4 136.4 658.9 128.1 659.4 118.4 660.0 124.3 660.5 132.5 661.0 126.1 661.5 124.2 662.0 130.0 662.5 124.2 663.0 118.9 663.5 128.8 664.0 123.5 664.5 121.9 665.0 120.8 665.6 132.4 666.1 121.1 666.6 123.6 667.1 133.7 667.6 129.6 668.1 124.8 668.6 128.6 669.1 118.7 669.6 120.4 670.1 120.8 670.6 126.4 671.1 123.2 671.7 124.3 672.2 127.7 672.7 126.7 673.2 122.3 673.7 125.5 674.2 127.6 674.7 127.8 675.2 121.7 675.7 127.5 676.2 116.8 676.7 124.0 677.3 125.4 677.8 125.0 678.3 123.2 678.8 125.0 679.3 120.4 679.8 125.4 680.3 126.4 680.8 118.4 681.3 127.1 681.8 124.5 682.3 128.5 682.9 128.4 683.4 122.0 683.9 128.3 684.4 125.8 684.9 125.7 685.4 127.6 685.9 125.3 686.4 121.0 686.9 121.4 687.4 116.7 687.9 128.7 688.4 124.8 689.0 117.2 689.5 120.9 690.0 120.5 690.5 122.5 691.0 123.4 691.5 124.9" fill="none" stroke="#00ff00" stroke-width="1.25" stroke-linejoin="round"/>
<line x1="81.5" y1="124.5" x2="691.5" y2="124.5" stroke="#e81010" stroke-width="1.2"/>
<path d="M81.5 64.5v6M81.5 192.0v-6M183.2 64.5v6M183.2 192.0v-6M284.8 64.5v6M284.8 192.0v-6M386.5 64.5v6M386.5 192.0v-6M488.2 64.5v6M488.2 192.0v-6M589.8 64.5v6M589.8 192.0v-6M691.5 64.5v6M691.5 192.0v-6M81.5 64.5h6M691.5 64.5h-6M81.5 107.0h6M691.5 107.0h-6M81.5 149.5h6M691.5 149.5h-6M81.5 192.0h6M691.5 192.0h-6" fill="none" stroke="#222" stroke-width="1.1"/>
<rect x="81.5" y="64.5" width="610.0" height="127.5" fill="none" stroke="#111" stroke-width="1.35"/>
<path d="M81.5 308.9 82.0 305.1 82.5 313.4 83.0 294.6 83.5 278.8 84.0 298.1 84.6 285.6 85.1 291.6 85.6 294.9 86.1 274.6 86.6 309.5 87.1 317.6 87.6 316.9 88.1 269.1 88.6 305.6 89.1 317.6 89.6 302.5 90.1 286.2 90.7 304.7 91.2 312.7 91.7 302.3 92.2 318.9 92.7 299.7 93.2 301.5 93.7 314.6 94.2 296.8 94.7 297.0 95.2 289.0 95.7 284.3 96.3 295.1 96.8 316.8 97.3 314.9 97.8 311.7 98.3 298.8 98.8 318.9 99.3 289.3 99.8 299.2 100.3 298.1 100.8 294.5 101.3 298.3 101.9 278.8 102.4 316.2 102.9 287.9 103.4 287.3 103.9 285.0 104.4 318.4 104.9 315.5 105.4 311.3 105.9 293.3 106.4 293.1 106.9 287.9 107.4 327.9 108.0 296.6 108.5 298.2 109.0 304.9 109.5 290.5 110.0 339.0 110.5 296.7 111.0 298.5 111.5 305.3 112.0 309.0 112.5 297.2 113.0 289.3 113.6 300.7 114.1 292.6 114.6 306.6 115.1 303.8 115.6 316.2 116.1 304.2 116.6 307.1 117.1 297.8 117.6 287.1 118.1 310.3 118.6 288.5 119.1 305.3 119.7 323.1 120.2 268.4 120.7 318.4 121.2 294.7 121.7 311.7 122.2 294.0 122.7 280.2 123.2 299.2 123.7 289.1 124.2 302.2 124.7 318.4 125.3 321.7 125.8 275.3 126.3 284.6 126.8 302.4 127.3 308.0 127.8 314.5 128.3 296.4 128.8 284.3 129.3 313.1 129.8 300.2 130.3 300.6 130.8 287.8 131.4 291.6 131.9 313.1 132.4 319.6 132.9 305.4 133.4 300.9 133.9 304.6 134.4 284.6 134.9 307.1 135.4 295.6 135.9 307.0 136.4 298.5 137.0 305.6 137.5 305.2 138.0 290.5 138.5 318.9 139.0 285.5 139.5 308.4 140.0 305.9 140.5 291.2 141.0 283.6 141.5 317.1 142.0 328.6 142.6 297.1 143.1 296.2 143.6 304.5 144.1 315.0 144.6 293.7 145.1 297.3 145.6 312.1 146.1 300.7 146.6 280.2 147.1 300.3 147.6 310.6 148.1 305.5 148.7 305.0 149.2 298.3 149.7 270.5 150.2 310.3 150.7 307.7 151.2 291.9 151.7 294.5 152.2 288.7 152.7 315.3 153.2 287.1 153.7 292.0 154.3 334.2 154.8 298.5 155.3 302.0 155.8 308.6 156.3 287.7 156.8 301.7 157.3 306.3 157.8 285.0 158.3 314.1 158.8 305.3 159.3 309.7 159.8 313.7 160.4 318.4 160.9 292.3 161.4 277.4 161.9 330.0 162.4 318.3 162.9 297.8 163.4 295.1 163.9 306.9 164.4 293.8 164.9 312.1 165.4 311.7 166.0 282.2 166.5 308.4 167.0 314.8 167.5 292.4 168.0 311.7 168.5 305.9 169.0 307.6 169.5 284.6 170.0 310.0 170.5 297.1 171.0 287.8 171.6 310.6 172.1 309.4 172.6 304.7 173.1 314.0 173.6 290.0 174.1 306.0 174.6 291.6 175.1 273.9 175.6 301.3 176.1 334.9 176.6 304.4 177.1 291.6 177.7 313.9 178.2 308.5 178.7 298.8 179.2 292.6 179.7 297.1 180.2 305.4 180.7 306.6 181.2 308.1 181.7 289.5 182.2 310.6 182.7 293.7 183.3 291.2 183.8 305.5 184.3 302.3 184.8 294.9 185.3 323.1 185.8 315.7 186.3 298.9 186.8 309.4 187.3 291.2 187.8 301.0 188.3 294.6 188.8 316.2 189.4 298.3 189.9 300.4 190.4 293.9 190.9 298.8 191.4 317.3 191.9 278.1 192.4 313.0 192.9 319.6 193.4 289.6 193.9 298.2 194.4 311.1 195.0 294.0 195.5 310.5 196.0 299.1 196.5 312.7 197.0 314.4 197.5 288.5 198.0 311.3 198.5 307.7 199.0 297.4 199.5 313.6 200.0 296.9 200.5 307.3 201.1 314.8 201.6 292.0 202.1 303.5 202.6 300.5 203.1 286.4 203.6 297.2 204.1 304.1 204.6 291.3 205.1 318.9 205.6 318.4 206.1 299.2 206.7 302.5 207.2 293.7 207.7 295.9 208.2 267.0 208.7 333.5 209.2 300.3 209.7 307.6 210.2 280.9 210.7 309.1 211.2 302.4 211.7 318.4 212.3 324.5 212.8 310.6 213.3 302.3 213.8 309.1 214.3 300.9 214.8 294.0 215.3 299.3 215.8 320.3 216.3 303.8 216.8 301.3 217.3 318.4 217.8 282.2 218.4 288.1 218.9 296.7 219.4 300.7 219.9 291.4 220.4 279.5 220.9 303.8 221.4 321.7 221.9 318.0 222.4 290.5 222.9 303.3 223.4 302.4 224.0 304.6 224.5 307.4 225.0 305.5 225.5 314.8 226.0 284.6 226.5 276.0 227.0 304.2 227.5 310.1 228.0 301.3 228.5 285.0 229.0 302.6 229.5 327.9 230.1 310.4 230.6 291.6 231.1 300.1 231.6 282.9 232.1 304.1 232.6 298.3 233.1 294.4 233.6 300.8 234.1 277.4 234.6 284.6 235.1 323.8 235.7 318.4 236.2 300.7 236.7 310.5 237.2 300.4 237.7 316.5 238.2 300.3 238.7 290.5 239.2 316.2 239.7 311.7 240.2 304.4 240.7 293.3 241.2 284.6 241.8 278.1 242.3 309.5 242.8 291.1 243.3 304.8 243.8 311.1 244.3 291.7 244.8 282.2 245.3 323.1 245.8 292.5 246.3 307.4 246.8 294.4 247.4 312.9 247.9 294.3 248.4 297.1 248.9 286.4 249.4 303.8 249.9 273.2 250.4 323.8 250.9 291.7 251.4 308.4 251.9 302.8 252.4 284.6 253.0 294.2 253.5 294.8 254.0 294.0 254.5 299.3 255.0 312.3 255.5 315.4 256.0 321.7 256.5 288.3 257.0 299.9 257.5 310.2 258.0 293.3 258.5 297.3 259.1 290.5 259.6 316.7 260.1 289.0 260.6 292.8 261.1 291.2 261.6 311.3 262.1 296.9 262.6 304.2 263.1 300.2 263.6 311.4 264.1 318.4 264.7 284.6 265.2 273.2 265.7 299.4 266.2 296.8 266.7 317.6 267.2 292.8 267.7 311.1 268.2 302.6 268.7 285.0 269.2 294.4 269.7 307.1 270.2 297.9 270.8 299.4 271.3 288.7 271.8 318.4 272.3 300.8 272.8 333.5 273.3 295.2 273.8 301.6 274.3 309.2 274.8 295.3 275.3 282.2 275.8 309.3 276.4 314.2 276.9 296.3 277.4 309.6 277.9 295.4 278.4 287.4 278.9 299.6 279.4 317.6 279.9 284.3 280.4 288.6 280.9 288.4 281.4 287.8 282.0 294.6 282.5 301.1 283.0 306.1 283.5 294.3 284.0 313.4 284.5 309.4 285.0 315.5 285.5 292.3 286.0 270.5 286.5 311.8 287.0 304.0 287.5 294.6 288.1 310.6 288.6 295.6 289.1 297.9 289.6 312.8 290.1 312.1 290.6 303.1 291.1 284.6 291.6 331.4 292.1 287.1 292.6 292.7 293.1 316.3 293.7 301.5 294.2 313.4 294.7 306.1 295.2 290.1 295.7 311.5 296.2 286.4 296.7 305.6 297.2 295.4 297.7 305.1 298.2 292.9 298.7 315.9 299.2 319.6 299.8 288.7 300.3 318.4 300.8 298.6 301.3 273.9 301.8 308.4 302.3 304.5 302.8 315.1 303.3 292.8 303.8 318.9 304.3 285.0 304.8 299.9 305.4 310.3 305.9 295.4 306.4 313.9 306.9 310.0 307.4 267.7 307.9 291.4 308.4 297.3 308.9 310.6 309.4 304.1 309.9 296.0 310.4 309.0 310.9 292.6 311.5 300.6 312.0 287.5 312.5 307.9 313.0 291.5 313.5 301.5 314.0 314.8 314.5 305.5 315.0 284.3 315.5 291.4 316.0 299.0 316.5 284.6 317.1 299.7 317.6 288.2 318.1 299.0 318.6 292.6 319.1 294.7 319.6 323.1 320.1 314.6 320.6 308.4 321.1 282.9 321.6 299.0 322.1 293.4 322.7 318.9 323.2 284.6 323.7 318.4 324.2 282.2 324.7 284.6 325.2 304.3 325.7 313.1 326.2 323.1 326.7 310.4 327.2 267.4 327.7 285.1 328.2 314.4 328.8 307.8 329.3 288.0 329.8 298.5 330.3 290.5 330.8 317.6 331.3 292.5 331.8 310.8 332.3 292.3 332.8 300.1 333.3 303.0 333.8 287.8 334.4 292.4 334.9 298.1 335.4 304.9 335.9 324.5 336.4 311.1 336.9 285.0 337.4 288.3 337.9 290.6 338.4 298.5 338.9 296.4 339.4 313.9 339.9 304.6 340.5 285.7 341.0 302.4 341.5 295.3 342.0 314.8 342.5 308.1 343.0 290.0 343.5 304.1 344.0 307.2 344.5 318.4 345.0 314.0 345.5 303.4 346.1 298.7 346.6 266.3 347.1 318.9 347.6 298.2 348.1 306.0 348.6 300.8 349.1 298.8 349.6 292.6 350.1 317.1 350.6 304.9 351.1 309.6 351.7 301.8 352.2 325.2 352.7 293.0 353.2 286.4 353.7 288.3 354.2 298.0 354.7 291.8 355.2 298.1 355.7 298.8 356.2 280.9 356.7 323.1 357.2 306.7 357.8 304.1 358.3 300.7 358.8 290.6 359.3 303.8 359.8 292.6 360.3 312.9 360.8 304.1 361.3 321.7 361.8 298.2 362.3 318.3 362.8 301.7 363.4 303.7 363.9 312.4 364.4 317.8 364.9 280.9 365.4 323.1 365.9 294.7 366.4 296.0 366.9 295.4 367.4 291.3 367.9 318.4 368.4 304.0 368.9 298.2 369.5 285.7 370.0 307.2 370.5 308.8 371.0 299.8 371.5 301.9 372.0 289.9 372.5 330.0 373.0 299.4 373.5 266.3 374.0 308.7 374.5 300.2 375.1 293.7 375.6 297.0 376.1 311.3 376.6 316.2 377.1 294.9 377.6 299.6 378.1 284.3 378.6 309.3 379.1 294.4 379.6 294.6 380.1 303.7 380.6 296.0 381.2 309.8 381.7 331.4 382.2 318.4 382.7 303.9 383.2 277.4 383.7 294.7 384.2 318.9 384.7 295.8 385.2 298.9 385.7 299.0 386.2 304.8 386.8 294.3 387.3 286.4 387.8 300.6 388.3 284.6 388.8 310.6 389.3 305.4 389.8 291.0 390.3 296.9 390.8 303.4 391.3 285.7 391.8 302.5 392.4 305.1 392.9 300.5 393.4 325.2 393.9 298.3 394.4 289.2 394.9 296.1 395.4 297.2 395.9 314.7 396.4 298.0 396.9 322.4 397.4 276.7 397.9 311.3 398.5 304.2 399.0 303.4 399.5 312.7 400.0 296.4 400.5 304.0 401.0 285.7 401.5 310.6 402.0 314.3 402.5 312.1 403.0 313.4 403.5 281.5 404.1 297.6 404.6 287.7 405.1 290.2 405.6 288.8 406.1 297.8 406.6 289.2 407.1 299.2 407.6 292.1 408.1 294.9 408.6 310.6 409.1 299.5 409.6 300.4 410.2 297.3 410.7 305.8 411.2 308.0 411.7 285.7 412.2 294.1 412.7 296.6 413.2 287.0 413.7 313.0 414.2 290.4 414.7 319.6 415.2 309.7 415.8 275.3 416.3 316.3 416.8 318.4 417.3 314.3 417.8 301.0 418.3 299.4 418.8 305.2 419.3 295.3 419.8 298.1 420.3 284.6 420.8 315.1 421.3 294.7 421.9 325.2 422.4 307.8 422.9 306.1 423.4 284.6 423.9 324.5 424.4 295.3 424.9 315.3 425.4 308.3 425.9 293.4 426.4 292.0 426.9 287.1 427.5 297.2 428.0 297.4 428.5 309.0 429.0 310.6 429.5 307.7 430.0 315.6 430.5 277.4 431.0 293.5 431.5 291.1 432.0 317.7 432.5 310.8 433.1 303.4 433.6 310.6 434.1 298.2 434.6 290.5 435.1 313.3 435.6 296.0 436.1 306.2 436.6 297.4 437.1 291.3 437.6 283.6 438.1 311.3 438.6 313.5 439.2 316.2 439.7 327.9 440.2 290.4 440.7 278.8 441.2 306.8 441.7 310.8 442.2 303.1 442.7 316.2 443.2 310.1 443.7 289.5 444.2 292.8 444.8 292.6 445.3 298.8 445.8 307.7 446.3 297.3 446.8 311.1 447.3 309.3 447.8 292.5 448.3 318.9 448.8 281.5 449.3 313.5 449.8 314.4 450.3 302.1 450.9 301.6 451.4 317.1 451.9 284.6 452.4 298.8 452.9 292.6 453.4 298.5 453.9 301.0 454.4 337.6 454.9 315.2 455.4 302.4 455.9 304.3 456.5 298.4 457.0 291.2 457.5 312.4 458.0 317.6 458.5 302.8 459.0 293.1 459.5 313.9 460.0 300.0 460.5 277.4 461.0 316.6 461.5 288.7 462.1 318.2 462.6 302.9 463.1 307.6 463.6 298.8 464.1 278.1 464.6 297.2 465.1 284.6 465.6 318.4 466.1 307.2 466.6 315.1 467.1 304.3 467.6 287.8 468.2 304.8 468.7 302.5 469.2 307.9 469.7 320.3 470.2 316.5 470.7 307.3 471.2 301.9 471.7 288.8 472.2 274.6 472.7 314.1 473.2 296.9 473.8 301.3 474.3 318.9 474.8 290.8 475.3 299.5 475.8 305.1 476.3 305.2 476.8 266.3 477.3 305.4 477.8 298.7 478.3 298.7 478.8 312.4 479.3 320.3 479.9 277.4 480.4 307.0 480.9 285.3 481.4 300.4 481.9 282.2 482.4 299.2 482.9 314.8 483.4 305.5 483.9 302.0 484.4 312.6 484.9 303.9 485.5 291.0 486.0 282.9 486.5 332.1 487.0 301.2 487.5 301.2 488.0 308.4 488.5 291.2 489.0 306.5 489.5 300.8 490.0 309.9 490.5 314.8 491.0 302.2 491.6 311.3 492.1 278.8 492.6 290.2 493.1 300.6 493.6 311.4 494.1 318.4 494.6 277.4 495.1 325.2 495.6 300.5 496.1 308.1 496.6 316.7 497.2 304.1 497.7 293.6 498.2 299.5 498.7 327.3 499.2 284.6 499.7 297.4 500.2 273.9 500.7 298.7 501.2 298.6 501.7 317.6 502.2 298.9 502.8 314.2 503.3 298.7 503.8 310.0 504.3 301.0 504.8 282.9 505.3 295.9 505.8 300.0 506.3 305.3 506.8 321.7 507.3 282.2 507.8 305.6 508.3 297.8 508.9 297.5 509.4 323.1 509.9 315.9 510.4 273.2 510.9 291.6 511.4 299.5 511.9 299.4 512.4 315.7 512.9 317.6 513.4 310.1 513.9 300.0 514.5 294.7 515.0 288.5 515.5 318.4 516.0 302.9 516.5 327.3 517.0 306.2 517.5 306.0 518.0 312.5 518.5 305.7 519.0 294.0 519.5 299.3 520.0 300.4 520.6 288.3 521.1 317.6 521.6 306.3 522.1 285.2 522.6 318.4 523.1 314.1 523.6 295.1 524.1 288.9 524.6 308.9 525.1 320.3 525.6 304.9 526.2 297.2 526.7 281.5 527.2 296.6 527.7 293.8 528.2 271.2 528.7 301.3 529.2 284.6 529.7 263.5 530.2 316.2 530.7 291.8 531.2 290.6 531.8 308.8 532.3 311.4 532.8 275.3 533.3 290.5 533.8 314.1 534.3 286.3 534.8 312.9 535.3 317.5 535.8 292.4 536.3 289.9 536.8 300.3 537.3 295.0 537.9 325.9 538.4 311.5 538.9 302.9 539.4 275.3 539.9 296.0 540.4 302.9 540.9 296.2 541.4 290.4 541.9 297.3 542.4 309.2 542.9 285.9 543.5 312.9 544.0 292.6 544.5 298.8 545.0 284.6 545.5 286.6 546.0 305.9 546.5 318.4 547.0 306.3 547.5 310.6 548.0 300.6 548.5 311.2 549.0 282.9 549.6 299.6 550.1 301.0 550.6 289.5 551.1 296.2 551.6 316.9 552.1 287.8 552.6 300.8 553.1 318.4 553.6 305.4 554.1 316.5 554.6 300.2 555.2 287.1 555.7 321.7 556.2 287.3 556.7 307.9 557.2 302.4 557.7 306.7 558.2 304.6 558.7 289.2 559.2 314.5 559.7 294.0 560.2 299.3 560.7 313.4 561.3 304.8 561.8 299.3 562.3 305.3 562.8 287.8 563.3 312.1 563.8 285.7 564.3 319.6 564.8 318.4 565.3 287.8 565.8 304.5 566.3 294.4 566.9 299.9 567.4 294.7 567.9 301.1 568.4 297.6 568.9 328.6 569.4 311.0 569.9 311.4 570.4 294.3 570.9 271.9 571.4 310.1 571.9 302.4 572.5 300.4 573.0 325.2 573.5 286.9 574.0 286.5 574.5 313.4 575.0 284.8 575.5 297.2 576.0 278.1 576.5 294.3 577.0 314.6 577.5 313.5 578.0 320.3 578.6 308.4 579.1 284.6 579.6 305.8 580.1 287.8 580.6 310.7 581.1 284.6 581.6 284.6 582.1 315.6 582.6 272.5 583.1 300.7 583.6 287.0 584.2 315.9 584.7 304.7 585.2 293.4 585.7 305.2 586.2 308.1 586.7 282.4 587.2 298.8 587.7 330.4 588.2 316.1 588.7 301.1 589.2 309.1 589.7 299.8 590.3 295.6 590.8 279.3 591.3 299.0 591.8 311.9 592.3 304.4 592.8 305.9 593.3 311.3 593.8 309.0 594.3 288.0 594.8 302.7 595.3 285.4 595.9 306.6 596.4 290.7 596.9 307.9 597.4 286.8 597.9 298.3 598.4 294.8 598.9 296.9 599.4 309.8 599.9 289.0 600.4 316.8 600.9 321.2 601.4 294.8 602.0 292.5 602.5 272.5 603.0 306.9 603.5 304.4 604.0 311.9 604.5 304.7 605.0 310.8 605.5 297.8 606.0 304.3 606.5 310.1 607.0 315.9 607.6 286.9 608.1 310.2 608.6 315.6 609.1 312.8 609.6 300.3 610.1 318.4 610.6 301.7 611.1 294.8 611.6 318.9 612.1 305.5 612.6 316.6 613.2 311.9 613.7 282.4 614.2 299.5 614.7 306.4 615.2 313.4 615.7 307.9 616.2 314.4 616.7 286.5 617.2 270.2 617.7 288.3 618.2 317.6 618.7 311.8 619.3 289.1 619.8 305.2 620.3 284.6 620.8 294.8 621.3 289.4 621.8 275.5 622.3 327.3 622.8 305.7 623.3 287.3 623.8 306.7 624.3 302.3 624.9 310.1 625.4 277.0 625.9 297.0 626.4 306.1 626.9 314.4 627.4 312.0 627.9 303.4 628.4 310.9 628.9 307.8 629.4 301.4 629.9 286.9 630.4 297.8 631.0 313.9 631.5 306.9 632.0 290.7 632.5 309.9 633.0 288.5 633.5 322.0 634.0 304.4 634.5 312.8 635.0 314.0 635.5 297.8 636.0 313.9 636.6 318.4 637.1 297.3 637.6 274.8 638.1 332.7 638.6 308.3 639.1 299.4 639.6 312.3 640.1 306.6 640.6 301.4 641.1 300.7 641.6 292.5 642.2 325.8 642.7 311.2 643.2 277.0 643.7 295.5 644.2 290.0 644.7 297.2 645.2 305.5 645.7 299.4 646.2 290.7 646.7 328.1 647.2 306.8 647.7 310.5 648.3 288.5 648.8 307.1 649.3 301.4 649.8 309.6 650.3 298.4 650.8 296.6 651.3 287.6 651.8 273.2 652.3 328.1 652.8 309.7 653.3 293.4 653.9 307.4 654.4 314.7 654.9 304.3 655.4 314.1 655.9 274.8 656.4 291.8 656.9 289.4 657.4 323.5 657.9 303.5 658.4 300.5 658.9 283.9 659.4 302.2 660.0 298.5 660.5 309.1 661.0 302.9 661.5 290.7 662.0 300.9 662.5 328.1 663.0 311.0 663.5 308.8 664.0 306.6 664.5 300.5 665.0 310.7 665.6 271.7 666.1 304.3 666.6 297.7 667.1 334.2 667.6 318.4 668.1 297.9 668.6 294.8 669.1 278.6 669.6 303.2 670.1 300.5 670.6 309.9 671.1 317.0 671.7 301.5 672.2 322.0 672.7 297.8 673.2 283.9 673.7 293.0 674.2 294.7 674.7 295.0 675.2 299.7 675.7 307.3 676.2 315.9 676.7 300.1 677.3 289.1 677.8 297.4 678.3 288.5 678.8 295.0 679.3 318.4 679.8 291.0 680.3 309.2 680.8 325.0 681.3 304.2 681.8 281.6 682.3 285.1 682.9 289.0 683.4 312.8 683.9 296.0 684.4 306.4 684.9 274.0 685.4 284.9 685.9 318.9 686.4 290.0 686.9 288.9 687.4 291.7 687.9 288.2 688.4 299.5 689.0 284.7 689.5 298.6 690.0 297.4 690.5 298.2 691.0 317.8 691.5 300.0" fill="none" stroke="#000" stroke-width="1.3" stroke-linejoin="round"/>
<path d="M81.5 293.3 82.0 304.1 82.5 310.3 83.0 304.9 83.5 294.2 84.0 300.3 84.6 302.7 85.1 300.7 85.6 300.2 86.1 297.3 86.6 301.0 87.1 295.9 87.6 303.7 88.1 301.7 88.6 303.8 89.1 301.2 89.6 292.8 90.1 308.6 90.7 308.0 91.2 304.4 91.7 296.7 92.2 300.4 92.7 305.2 93.2 301.3 93.7 307.5 94.2 306.7 94.7 304.8 95.2 299.3 95.7 302.8 96.3 301.2 96.8 296.0 97.3 303.2 97.8 295.6 98.3 305.7 98.8 291.9 99.3 307.7 99.8 310.6 100.3 300.6 100.8 302.4 101.3 298.2 101.9 297.8 102.4 307.9 102.9 301.6 103.4 290.6 103.9 303.0 104.4 294.1 104.9 301.0 105.4 303.0 105.9 306.2 106.4 304.3 106.9 308.3 107.4 294.6 108.0 301.9 108.5 304.5 109.0 297.5 109.5 305.7 110.0 298.9 110.5 297.9 111.0 296.8 111.5 299.5 112.0 295.2 112.5 301.8 113.0 298.3 113.6 295.2 114.1 299.6 114.6 296.7 115.1 311.9 115.6 298.4 116.1 298.4 116.6 301.8 117.1 296.7 117.6 292.0 118.1 298.2 118.6 297.3 119.1 302.6 119.7 303.5 120.2 301.0 120.7 306.0 121.2 301.5 121.7 297.5 122.2 301.9 122.7 302.5 123.2 304.7 123.7 296.4 124.2 300.9 124.7 300.6 125.3 299.3 125.8 296.5 126.3 305.2 126.8 302.9 127.3 296.2 127.8 303.2 128.3 299.3 128.8 290.1 129.3 306.6 129.8 300.2 130.3 298.2 130.8 294.5 131.4 301.3 131.9 306.9 132.4 306.1 132.9 302.2 133.4 308.6 133.9 292.9 134.4 305.9 134.9 296.5 135.4 299.3 135.9 301.7 136.4 300.3 137.0 308.2 137.5 303.6 138.0 299.8 138.5 301.7 139.0 300.2 139.5 300.7 140.0 296.6 140.5 305.0 141.0 300.6 141.5 297.2 142.0 302.7 142.6 304.0 143.1 298.0 143.6 297.8 144.1 304.5 144.6 305.3 145.1 299.8 145.6 297.5 146.1 304.7 146.6 305.1 147.1 299.2 147.6 289.8 148.1 302.5 148.7 303.6 149.2 305.6 149.7 296.9 150.2 302.9 150.7 309.4 151.2 308.2 151.7 307.8 152.2 304.4 152.7 302.6 153.2 299.3 153.7 306.8 154.3 300.1 154.8 308.6 155.3 300.2 155.8 302.2 156.3 300.7 156.8 308.5 157.3 305.7 157.8 302.7 158.3 296.0 158.8 300.4 159.3 297.9 159.8 300.4 160.4 297.3 160.9 301.9 161.4 295.3 161.9 300.3 162.4 302.3 162.9 296.2 163.4 296.5 163.9 302.2 164.4 296.5 164.9 304.9 165.4 298.2 166.0 307.8 166.5 297.9 167.0 305.6 167.5 300.1 168.0 299.5 168.5 301.4 169.0 308.3 169.5 303.8 170.0 302.6 170.5 300.1 171.0 303.3 171.6 304.0 172.1 296.8 172.6 302.7 173.1 299.1 173.6 312.8 174.1 307.6 174.6 304.4 175.1 305.8 175.6 305.4 176.1 298.6 176.6 295.4 177.1 300.9 177.7 304.6 178.2 307.2 178.7 304.9 179.2 291.9 179.7 302.7 180.2 303.4 180.7 301.2 181.2 293.9 181.7 301.3 182.2 293.0 182.7 300.8 183.3 303.5 183.8 302.7 184.3 302.9 184.8 303.9 185.3 307.1 185.8 300.1 186.3 298.3 186.8 301.5 187.3 305.0 187.8 299.2 188.3 301.4 188.8 303.2 189.4 298.6 189.9 295.8 190.4 304.2 190.9 305.7 191.4 297.0 191.9 301.5 192.4 293.9 192.9 299.0 193.4 300.7 193.9 305.0 194.4 306.6 195.0 297.5 195.5 300.6 196.0 303.8 196.5 304.4 197.0 303.1 197.5 305.7 198.0 302.7 198.5 304.8 199.0 297.6 199.5 300.7 200.0 305.2 200.5 305.1 201.1 296.8 201.6 298.8 202.1 299.7 202.6 308.0 203.1 302.3 203.6 303.8 204.1 300.0 204.6 298.4 205.1 297.4 205.6 296.9 206.1 308.1 206.7 296.7 207.2 305.3 207.7 295.4 208.2 295.2 208.7 307.4 209.2 300.6 209.7 301.7 210.2 302.3 210.7 299.8 211.2 301.0 211.7 312.5 212.3 303.2 212.8 303.5 213.3 300.1 213.8 294.7 214.3 296.0 214.8 299.7 215.3 300.0 215.8 298.9 216.3 311.6 216.8 304.9 217.3 296.9 217.8 297.6 218.4 297.4 218.9 299.6 219.4 296.0 219.9 299.4 220.4 298.5 220.9 305.3 221.4 304.6 221.9 301.6 222.4 304.5 222.9 292.7 223.4 298.1 224.0 301.2 224.5 295.2 225.0 296.9 225.5 306.3 226.0 299.9 226.5 298.8 227.0 297.7 227.5 297.4 228.0 305.3 228.5 303.1 229.0 302.0 229.5 294.6 230.1 295.2 230.6 295.2 231.1 292.9 231.6 305.9 232.1 308.8 232.6 300.7 233.1 302.7 233.6 297.0 234.1 295.0 234.6 300.0 235.1 303.3 235.7 303.4 236.2 296.6 236.7 296.2 237.2 298.4 237.7 307.0 238.2 294.5 238.7 303.3 239.2 298.0 239.7 308.3 240.2 297.5 240.7 295.9 241.2 302.5 241.8 300.1 242.3 301.2 242.8 299.6 243.3 309.7 243.8 306.5 244.3 298.5 244.8 298.7 245.3 298.4 245.8 299.9 246.3 304.9 246.8 303.0 247.4 302.8 247.9 297.6 248.4 305.1 248.9 303.5 249.4 301.3 249.9 306.9 250.4 302.9 250.9 302.6 251.4 301.8 251.9 304.3 252.4 297.9 253.0 303.5 253.5 295.7 254.0 307.4 254.5 302.8 255.0 302.5 255.5 301.0 256.0 304.5 256.5 303.4 257.0 307.9 257.5 309.0 258.0 292.4 258.5 299.9 259.1 302.4 259.6 305.2 260.1 299.5 260.6 304.2 261.1 302.7 261.6 296.0 262.1 301.2 262.6 306.2 263.1 308.0 263.6 311.3 264.1 311.2 264.7 300.1 265.2 303.5 265.7 298.9 266.2 301.8 266.7 300.6 267.2 309.4 267.7 303.3 268.2 300.3 268.7 297.4 269.2 299.2 269.7 299.8 270.2 298.8 270.8 304.2 271.3 306.5 271.8 304.2 272.3 303.3 272.8 298.8 273.3 297.2 273.8 302.8 274.3 307.9 274.8 305.2 275.3 299.0 275.8 306.4 276.4 297.0 276.9 305.5 277.4 299.2 277.9 308.7 278.4 298.0 278.9 313.3 279.4 302.6 279.9 301.1 280.4 302.8 280.9 303.1 281.4 303.8 282.0 303.5 282.5 294.0 283.0 306.0 283.5 296.8 284.0 296.6 284.5 305.9 285.0 303.6 285.5 291.7 286.0 293.8 286.5 296.9 287.0 302.3 287.5 306.5 288.1 306.4 288.6 297.3 289.1 304.5 289.6 307.2 290.1 298.5 290.6 306.0 291.1 296.5 291.6 300.4 292.1 299.5 292.6 308.8 293.1 303.8 293.7 303.3 294.2 303.3 294.7 300.5 295.2 301.7 295.7 304.1 296.2 296.8 296.7 299.4 297.2 300.9 297.7 302.1 298.2 292.6 298.7 307.7 299.2 303.6 299.8 292.5 300.3 298.7 300.8 295.2 301.3 302.9 301.8 297.1 302.3 307.4 302.8 307.0 303.3 300.3 303.8 306.4 304.3 302.4 304.8 301.7 305.4 289.6 305.9 300.5 306.4 299.7 306.9 302.7 307.4 305.8 307.9 306.0 308.4 303.4 308.9 301.0 309.4 303.3 309.9 299.0 310.4 306.7 310.9 306.6 311.5 299.3 312.0 294.3 312.5 298.5 313.0 298.8 313.5 306.4 314.0 303.6 314.5 305.1 315.0 307.1 315.5 304.6 316.0 306.8 316.5 299.1 317.1 298.6 317.6 301.1 318.1 308.0 318.6 302.4 319.1 302.9 319.6 298.6 320.1 304.8 320.6 309.7 321.1 298.6 321.6 307.8 322.1 292.1 322.7 302.6 323.2 299.2 323.7 301.2 324.2 296.7 324.7 305.1 325.2 295.4 325.7 312.7 326.2 302.8 326.7 301.6 327.2 303.3 327.7 298.3 328.2 302.7 328.8 308.0 329.3 300.6 329.8 301.6 330.3 304.5 330.8 297.4 331.3 304.9 331.8 310.1 332.3 307.0 332.8 302.9 333.3 299.5 333.8 306.9 334.4 302.7 334.9 296.1 335.4 300.7 335.9 297.6 336.4 301.2 336.9 294.1 337.4 305.6 337.9 302.6 338.4 306.5 338.9 299.1 339.4 306.2 339.9 299.2 340.5 294.5 341.0 298.6 341.5 302.9 342.0 307.9 342.5 295.5 343.0 296.4 343.5 307.4 344.0 296.7 344.5 298.2 345.0 309.2 345.5 306.3 346.1 299.4 346.6 298.2 347.1 301.2 347.6 301.3 348.1 294.0 348.6 304.1 349.1 303.6 349.6 303.2 350.1 289.6 350.6 299.6 351.1 303.7 351.7 295.5 352.2 312.5 352.7 297.9 353.2 305.2 353.7 306.8 354.2 299.3 354.7 295.0 355.2 308.1 355.7 304.4 356.2 297.9 356.7 308.5 357.2 310.4 357.8 303.2 358.3 298.9 358.8 308.1 359.3 301.5 359.8 305.4 360.3 301.7 360.8 296.5 361.3 306.4 361.8 303.0 362.3 296.8 362.8 299.7 363.4 302.0 363.9 305.3 364.4 300.3 364.9 301.1 365.4 305.5 365.9 297.0 366.4 303.4 366.9 297.4 367.4 304.4 367.9 295.2 368.4 300.7 368.9 301.4 369.5 300.8 370.0 304.0 370.5 306.1 371.0 299.2 371.5 301.8 372.0 309.6 372.5 302.4 373.0 302.9 373.5 296.6 374.0 301.4 374.5 302.9 375.1 300.6 375.6 291.4 376.1 308.3 376.6 301.4 377.1 299.4 377.6 296.4 378.1 297.5 378.6 300.4 379.1 302.3 379.6 297.4 380.1 307.6 380.6 305.0 381.2 302.4 381.7 295.5 382.2 301.8 382.7 302.6 383.2 298.9 383.7 301.4 384.2 300.1 384.7 308.3 385.2 302.5 385.7 303.7 386.2 298.7 386.8 303.8 387.3 294.3 387.8 299.7 388.3 304.8 388.8 304.8 389.3 294.6 389.8 308.5 390.3 306.1 390.8 299.2 391.3 294.5 391.8 297.5 392.4 300.1 392.9 303.4 393.4 304.2 393.9 303.5 394.4 304.6 394.9 302.7 395.4 303.9 395.9 302.4 396.4 304.6 396.9 292.8 397.4 300.3 397.9 301.5 398.5 300.0 399.0 294.2 399.5 302.3 400.0 295.7 400.5 300.4 401.0 291.2 401.5 301.7 402.0 310.4 402.5 298.8 403.0 303.1 403.5 310.6 404.1 305.3 404.6 307.7 405.1 296.2 405.6 302.1 406.1 302.6 406.6 302.7 407.1 299.6 407.6 306.0 408.1 303.2 408.6 297.1 409.1 300.3 409.6 299.2 410.2 299.5 410.7 306.3 411.2 292.3 411.7 301.5 412.2 303.3 412.7 309.4 413.2 298.3 413.7 302.0 414.2 302.5 414.7 301.0 415.2 299.5 415.8 299.6 416.3 301.6 416.8 299.4 417.3 305.6 417.8 308.9 418.3 303.6 418.8 302.1 419.3 301.2 419.8 299.7 420.3 298.6 420.8 303.9 421.3 298.2 421.9 298.2 422.4 306.5 422.9 305.6 423.4 304.8 423.9 299.6 424.4 291.9 424.9 292.8 425.4 302.5 425.9 309.0 426.4 306.6 426.9 298.1 427.5 298.9 428.0 293.0 428.5 303.7 429.0 305.7 429.5 291.8 430.0 301.1 430.5 296.8 431.0 300.0 431.5 297.6 432.0 297.6 432.5 306.9 433.1 305.6 433.6 305.3 434.1 301.8 434.6 291.7 435.1 301.1 435.6 301.5 436.1 301.4 436.6 309.6 437.1 300.7 437.6 302.1 438.1 302.7 438.6 295.0 439.2 304.5 439.7 304.8 440.2 302.3 440.7 305.7 441.2 303.8 441.7 306.6 442.2 306.3 442.7 299.7 443.2 304.5 443.7 302.8 444.2 292.6 444.8 301.9 445.3 301.2 445.8 304.7 446.3 299.0 446.8 301.4 447.3 304.7 447.8 302.5 448.3 295.3 448.8 305.2 449.3 302.7 449.8 300.0 450.3 308.4 450.9 291.8 451.4 297.5 451.9 299.1 452.4 295.8 452.9 297.3 453.4 307.9 453.9 305.7 454.4 302.6 454.9 304.4 455.4 301.1 455.9 302.9 456.5 296.4 457.0 302.5 457.5 306.4 458.0 306.4 458.5 302.1 459.0 306.8 459.5 310.0 460.0 306.5 460.5 299.8 461.0 307.3 461.5 305.6 462.1 307.0 462.6 301.7 463.1 296.5 463.6 300.0 464.1 297.9 464.6 305.0 465.1 304.4 465.6 301.8 466.1 300.6 466.6 296.2 467.1 294.5 467.6 305.4 468.2 298.7 468.7 304.5 469.2 303.2 469.7 299.5 470.2 301.7 470.7 301.4 471.2 303.8 471.7 303.1 472.2 300.4 472.7 290.7 473.2 308.6 473.8 298.1 474.3 300.1 474.8 299.2 475.3 297.1 475.8 300.8 476.3 304.4 476.8 306.7 477.3 295.6 477.8 301.2 478.3 304.1 478.8 302.8 479.3 297.5 479.9 297.1 480.4 299.2 480.9 304.3 481.4 295.8 481.9 305.0 482.4 297.5 482.9 309.3 483.4 301.5 483.9 296.5 484.4 298.7 484.9 301.5 485.5 308.7 486.0 304.6 486.5 297.9 487.0 296.3 487.5 305.6 488.0 301.3 488.5 301.8 489.0 301.2 489.5 298.4 490.0 307.5 490.5 296.8 491.0 294.6 491.6 304.3 492.1 298.9 492.6 302.0 493.1 306.7 493.6 297.8 494.1 301.1 494.6 306.8 495.1 300.8 495.6 305.0 496.1 298.6 496.6 298.5 497.2 296.9 497.7 298.0 498.2 305.3 498.7 303.4 499.2 299.5 499.7 302.8 500.2 297.8 500.7 302.0 501.2 294.3 501.7 301.6 502.2 307.5 502.8 304.0 503.3 299.0 503.8 303.9 504.3 303.1 504.8 299.0 505.3 306.4 505.8 302.8 506.3 301.3 506.8 304.2 507.3 302.4 507.8 307.0 508.3 291.8 508.9 293.9 509.4 308.1 509.9 306.5 510.4 304.3 510.9 293.3 511.4 309.0 511.9 300.2 512.4 308.2 512.9 299.4 513.4 293.8 513.9 302.1 514.5 301.8 515.0 307.6 515.5 295.8 516.0 298.0 516.5 302.6 517.0 299.4 517.5 304.8 518.0 307.9 518.5 294.5 519.0 301.4 519.5 295.9 520.0 303.6 520.6 309.1 521.1 297.9 521.6 302.9 522.1 305.9 522.6 300.6 523.1 300.8 523.6 297.8 524.1 302.2 524.6 298.9 525.1 305.5 525.6 304.7 526.2 298.9 526.7 309.4 527.2 299.3 527.7 300.4 528.2 299.8 528.7 300.8 529.2 303.1 529.7 298.2 530.2 302.0 530.7 296.9 531.2 300.2 531.8 300.1 532.3 303.7 532.8 299.4 533.3 300.7 533.8 298.2 534.3 296.3 534.8 303.2 535.3 313.4 535.8 295.4 536.3 298.2 536.8 297.1 537.3 300.2 537.9 297.6 538.4 303.0 538.9 300.3 539.4 298.3 539.9 309.0 540.4 299.0 540.9 300.4 541.4 309.7 541.9 299.8 542.4 300.6 542.9 311.6 543.5 302.4 544.0 303.2 544.5 298.2 545.0 302.8 545.5 302.5 546.0 303.8 546.5 300.6 547.0 299.5 547.5 301.9 548.0 296.9 548.5 297.6 549.0 296.7 549.6 301.0 550.1 305.5 550.6 300.6 551.1 301.3 551.6 308.4 552.1 297.3 552.6 302.2 553.1 298.9 553.6 295.8 554.1 302.5 554.6 298.5 555.2 298.8 555.7 299.0 556.2 295.6 556.7 301.8 557.2 297.4 557.7 304.7 558.2 299.8 558.7 297.2 559.2 302.4 559.7 305.8 560.2 305.9 560.7 300.3 561.3 299.5 561.8 308.3 562.3 302.3 562.8 302.5 563.3 302.5 563.8 300.0 564.3 298.9 564.8 303.0 565.3 295.8 565.8 310.1 566.3 296.7 566.9 298.8 567.4 305.3 567.9 302.5 568.4 304.8 568.9 313.4 569.4 302.5 569.9 303.3 570.4 309.6 570.9 305.6 571.4 304.1 571.9 295.9 572.5 303.3 573.0 303.4 573.5 306.9 574.0 306.3 574.5 299.8 575.0 299.0 575.5 304.3 576.0 297.1 576.5 302.8 577.0 303.4 577.5 294.9 578.0 295.3 578.6 298.8 579.1 299.7 579.6 300.6 580.1 307.9 580.6 305.3 581.1 312.5 581.6 302.1 582.1 301.5 582.6 297.0 583.1 298.9 583.6 297.1 584.2 311.5 584.7 305.4 585.2 301.3 585.7 304.0 586.2 299.9 586.7 304.5 587.2 299.4 587.7 297.5 588.2 297.5 588.7 299.0 589.2 298.4 589.7 305.4 590.3 299.1 590.8 309.3 591.3 301.3 591.8 301.1 592.3 304.8 592.8 301.3 593.3 309.1 593.8 308.3 594.3 308.0 594.8 298.7 595.3 299.5 595.9 301.5 596.4 297.4 596.9 298.8 597.4 310.2 597.9 297.4 598.4 302.2 598.9 307.8 599.4 299.9 599.9 302.0 600.4 291.6 600.9 299.6 601.4 297.2 602.0 300.6 602.5 300.4 603.0 294.9 603.5 303.6 604.0 304.9 604.5 302.8 605.0 304.4 605.5 306.7 606.0 299.0 606.5 296.5 607.0 293.0 607.6 298.7 608.1 300.3 608.6 303.0 609.1 302.5 609.6 307.5 610.1 301.8 610.6 301.8 611.1 308.3 611.6 307.1 612.1 302.4 612.6 302.8 613.2 300.4 613.7 303.2 614.2 303.9 614.7 295.8 615.2 302.7 615.7 301.3 616.2 309.7 616.7 301.9 617.2 307.2 617.7 299.6 618.2 303.2 618.7 294.4 619.3 301.3 619.8 298.4 620.3 305.0 620.8 304.2 621.3 303.8 621.8 305.9 622.3 303.2 622.8 302.1 623.3 296.6 623.8 300.0 624.3 299.5 624.9 293.9 625.4 300.3 625.9 298.3 626.4 299.4 626.9 301.0 627.4 306.1 627.9 297.4 628.4 305.6 628.9 307.4 629.4 303.0 629.9 303.0 630.4 302.4 631.0 297.6 631.5 296.3 632.0 305.1 632.5 298.9 633.0 306.8 633.5 302.3 634.0 305.7 634.5 304.0 635.0 297.1 635.5 304.0 636.0 300.0 636.6 306.1 637.1 300.6 637.6 289.6 638.1 306.0 638.6 300.3 639.1 302.0 639.6 296.2 640.1 292.5 640.6 300.0 641.1 299.3 641.6 300.8 642.2 298.9 642.7 301.4 643.2 301.5 643.7 305.2 644.2 300.4 644.7 306.6 645.2 302.2 645.7 298.5 646.2 298.0 646.7 297.9 647.2 301.2 647.7 297.4 648.3 306.0 648.8 299.9 649.3 301.5 649.8 293.4 650.3 300.3 650.8 306.9 651.3 302.4 651.8 297.9 652.3 305.0 652.8 296.2 653.3 306.2 653.9 298.7 654.4 299.8 654.9 298.5 655.4 305.1 655.9 303.4 656.4 300.8 656.9 305.7 657.4 306.7 657.9 300.4 658.4 303.9 658.9 289.6 659.4 305.9 660.0 301.7 660.5 298.7 661.0 298.5 661.5 294.0 662.0 299.8 662.5 295.0 663.0 305.1 663.5 302.9 664.0 300.3 664.5 297.5 665.0 298.5 665.6 306.4 666.1 298.4 666.6 298.9 667.1 299.6 667.6 297.9 668.1 302.1 668.6 305.1 669.1 300.3 669.6 298.0 670.1 303.4 670.6 299.8 671.1 301.1 671.7 300.6 672.2 300.9 672.7 301.0 673.2 298.3 673.7 301.7 674.2 307.7 674.7 297.1 675.2 310.7 675.7 309.8 676.2 298.9 676.7 294.0 677.3 303.1 677.8 299.1 678.3 301.4 678.8 303.1 679.3 300.4 679.8 296.0 680.3 302.6 680.8 304.1 681.3 304.6 681.8 295.5 682.3 302.0 682.9 304.6 683.4 308.0 683.9 302.2 684.4 302.1 684.9 294.6 685.4 300.7 685.9 306.4 686.4 296.4 686.9 304.7 687.4 300.4 687.9 297.4 688.4 300.1 689.0 308.4 689.5 298.6 690.0 306.2 690.5 305.0 691.0 301.0 691.5 307.3" fill="none" stroke="#00ff00" stroke-width="1.25" stroke-linejoin="round"/>
<line x1="81.5" y1="301.5" x2="691.5" y2="301.5" stroke="#e81010" stroke-width="1.2"/>
<path d="M81.5 242.2v6M81.5 369.2v-6M183.2 242.2v6M183.2 369.2v-6M284.8 242.2v6M284.8 369.2v-6M386.5 242.2v6M386.5 369.2v-6M488.2 242.2v6M488.2 369.2v-6M589.8 242.2v6M589.8 369.2v-6M691.5 242.2v6M691.5 369.2v-6M81.5 242.2h6M691.5 242.2h-6M81.5 284.5h6M691.5 284.5h-6M81.5 326.9h6M691.5 326.9h-6M81.5 369.2h6M691.5 369.2h-6" fill="none" stroke="#222" stroke-width="1.1"/>
<rect x="81.5" y="242.2" width="610.0" height="127.0" fill="none" stroke="#111" stroke-width="1.35"/>
<path d="M81.5 472.7 82.0 461.6 82.5 493.8 83.0 488.6 83.5 484.0 84.0 470.5 84.6 478.9 85.1 467.4 85.6 495.4 86.1 461.6 86.6 461.3 87.1 492.0 87.6 504.4 88.1 484.1 88.6 481.9 89.1 469.2 89.6 483.0 90.1 486.8 90.7 471.5 91.2 465.4 91.7 497.0 92.2 475.1 92.7 456.1 93.2 468.5 93.7 461.6 94.2 472.1 94.7 478.3 95.2 495.4 95.7 480.8 96.3 495.4 96.8 470.3 97.3 469.2 97.8 493.8 98.3 476.2 98.8 473.0 99.3 484.2 99.8 475.6 100.3 475.6 100.8 477.9 101.3 505.2 101.9 475.4 102.4 464.3 102.9 485.3 103.4 474.0 103.9 470.4 104.4 495.4 104.9 469.6 105.4 497.0 105.9 489.7 106.4 463.4 106.9 486.5 107.4 483.5 108.0 488.8 108.5 485.6 109.0 482.1 109.5 490.5 110.0 489.6 110.5 492.1 111.0 468.8 111.5 478.7 112.0 459.3 112.5 462.3 113.0 472.4 113.6 497.0 114.1 489.3 114.6 471.1 115.1 474.2 115.6 464.3 116.1 480.0 116.6 482.3 117.1 497.9 117.6 473.4 118.1 493.7 118.6 483.6 119.1 474.2 119.7 478.3 120.2 456.9 120.7 474.7 121.2 495.4 121.7 478.6 122.2 488.0 122.7 467.9 123.2 456.1 123.7 470.0 124.2 474.9 124.7 488.6 125.3 492.2 125.8 480.5 126.3 490.5 126.8 474.5 127.3 488.2 127.8 469.2 128.3 475.7 128.8 480.0 129.3 483.6 129.8 474.6 130.3 495.4 130.8 497.0 131.4 492.3 131.9 480.0 132.4 475.7 132.9 460.2 133.4 486.3 133.9 482.8 134.4 471.3 134.9 495.4 135.4 487.7 135.9 476.1 136.4 471.4 137.0 465.1 137.5 484.2 138.0 472.3 138.5 509.3 139.0 461.6 139.5 466.2 140.0 473.5 140.5 461.8 141.0 483.7 141.5 481.7 142.0 491.0 142.6 484.1 143.1 501.1 143.6 488.7 144.1 481.8 144.6 464.5 145.1 476.0 145.6 474.1 146.1 478.8 146.6 485.0 147.1 482.5 147.6 460.2 148.1 493.8 148.7 478.5 149.2 483.3 149.7 479.8 150.2 474.7 150.7 465.9 151.2 491.5 151.7 480.7 152.2 461.6 152.7 461.6 153.2 487.2 153.7 474.6 154.3 478.8 154.8 453.6 155.3 476.0 155.8 461.6 156.3 485.7 156.8 481.8 157.3 469.7 157.8 511.0 158.3 483.1 158.8 476.1 159.3 492.7 159.8 474.1 160.4 491.5 160.9 478.3 161.4 459.3 161.9 462.9 162.4 486.3 162.9 493.8 163.4 476.4 163.9 495.4 164.4 479.7 164.9 476.6 165.4 473.5 166.0 461.6 166.5 444.6 167.0 479.3 167.5 479.5 168.0 478.9 168.5 474.1 169.0 463.6 169.5 494.6 170.0 478.5 170.5 465.1 171.0 494.8 171.6 477.3 172.1 495.4 172.6 475.7 173.1 466.5 173.6 487.1 174.1 485.8 174.6 478.9 175.1 487.2 175.6 479.5 176.1 446.2 176.6 470.7 177.1 476.0 177.7 479.6 178.2 495.4 178.7 480.6 179.2 485.6 179.7 472.3 180.2 456.9 180.7 473.2 181.2 470.9 181.7 460.2 182.2 472.0 182.7 485.6 183.3 480.6 183.8 479.4 184.3 466.5 184.8 475.2 185.3 478.8 185.8 471.0 186.3 472.2 186.8 497.9 187.3 454.4 187.8 495.4 188.3 494.5 188.8 463.4 189.4 472.6 189.9 494.0 190.4 471.9 190.9 458.5 191.4 477.7 191.9 470.7 192.4 500.3 192.9 472.0 193.4 471.3 193.9 456.9 194.4 480.6 195.0 475.3 195.5 484.7 196.0 492.8 196.5 466.2 197.0 477.6 197.5 467.5 198.0 490.5 198.5 480.6 199.0 469.0 199.5 484.7 200.0 475.3 200.5 497.9 201.1 482.0 201.6 479.8 202.1 456.9 202.6 488.8 203.1 493.3 203.6 473.3 204.1 466.3 204.6 474.3 205.1 487.7 205.6 493.8 206.1 484.6 206.7 492.6 207.2 459.3 207.7 484.9 208.2 499.5 208.7 490.1 209.2 469.0 209.7 479.2 210.2 468.4 210.7 470.3 211.2 468.4 211.7 493.8 212.3 476.4 212.8 476.5 213.3 472.6 213.8 462.1 214.3 473.2 214.8 464.4 215.3 462.6 215.8 482.4 216.3 511.0 216.8 473.0 217.3 470.9 217.8 482.5 218.4 468.9 218.9 484.5 219.4 452.8 219.9 473.0 220.4 477.5 220.9 487.1 221.4 491.0 221.9 459.3 222.4 497.0 222.9 461.6 223.4 488.8 224.0 492.3 224.5 461.6 225.0 494.7 225.5 484.7 226.0 495.4 226.5 479.0 227.0 446.2 227.5 464.8 228.0 461.6 228.5 477.1 229.0 475.8 229.5 482.1 230.1 458.5 230.6 509.3 231.1 477.3 231.6 483.9 232.1 476.8 232.6 483.9 233.1 489.7 233.6 482.9 234.1 455.2 234.6 484.6 235.1 488.9 235.7 475.0 236.2 492.1 236.7 452.0 237.2 485.6 237.7 481.3 238.2 468.4 238.7 471.3 239.2 495.4 239.7 476.8 240.2 452.8 240.7 488.9 241.2 484.2 241.8 493.0 242.3 456.9 242.8 463.6 243.3 492.4 243.8 486.6 244.3 485.1 244.8 452.0 245.3 472.8 245.8 476.1 246.3 478.3 246.8 477.9 247.4 488.9 247.9 485.9 248.4 460.2 248.9 491.1 249.4 466.9 249.9 481.6 250.4 489.6 250.9 497.0 251.4 473.0 251.9 486.2 252.4 485.3 253.0 459.3 253.5 485.8 254.0 493.8 254.5 486.4 255.0 468.1 255.5 484.7 256.0 476.3 256.5 466.7 257.0 478.4 257.5 484.4 258.0 507.7 258.5 485.0 259.1 476.8 259.6 483.4 260.1 472.8 260.6 456.9 261.1 502.0 261.6 493.0 262.1 476.5 262.6 481.5 263.1 483.4 263.6 486.5 264.1 482.1 264.7 461.6 265.2 461.6 265.7 463.2 266.2 456.9 266.7 490.5 267.2 469.4 267.7 482.6 268.2 473.7 268.7 469.1 269.2 464.9 269.7 475.2 270.2 453.6 270.8 481.7 271.3 487.2 271.8 478.2 272.3 480.6 272.8 472.2 273.3 452.0 273.8 481.6 274.3 465.7 274.8 482.6 275.3 473.9 275.8 460.2 276.4 493.0 276.9 479.7 277.4 477.3 277.9 484.9 278.4 491.9 278.9 461.6 279.4 500.3 279.9 482.7 280.4 463.4 280.9 479.8 281.4 471.7 282.0 467.5 282.5 485.2 283.0 476.4 283.5 495.4 284.0 481.4 284.5 469.2 285.0 477.2 285.5 471.0 286.0 511.0 286.5 462.9 287.0 446.2 287.5 488.5 288.1 487.4 288.6 486.2 289.1 476.0 289.6 481.1 290.1 487.2 290.6 469.2 291.1 475.7 291.6 488.5 292.1 477.1 292.6 476.2 293.1 480.4 293.7 483.4 294.2 470.5 294.7 480.5 295.2 461.0 295.7 470.6 296.2 486.6 296.7 499.5 297.2 461.6 297.7 487.1 298.2 464.3 298.7 466.7 299.2 476.8 299.8 480.6 300.3 478.5 300.8 484.6 301.3 477.5 301.8 479.7 302.3 469.2 302.8 492.1 303.3 470.0 303.8 477.6 304.3 479.7 304.8 461.6 305.4 477.9 305.9 472.0 306.4 450.3 306.9 487.5 307.4 488.9 307.9 468.9 308.4 495.4 308.9 471.5 309.4 470.6 309.9 457.7 310.4 472.0 310.9 487.7 311.5 474.4 312.0 461.0 312.5 480.3 313.0 497.0 313.5 476.8 314.0 490.7 314.5 459.3 315.0 475.0 315.5 507.7 316.0 483.8 316.5 473.9 317.1 484.6 317.6 458.5 318.1 484.5 318.6 488.5 319.1 484.0 319.6 464.2 320.1 493.8 320.6 477.8 321.1 465.9 321.6 475.0 322.1 492.2 322.7 461.6 323.2 487.1 323.7 489.6 324.2 480.1 324.7 487.3 325.2 464.3 325.7 497.0 326.2 481.5 326.7 476.9 327.2 484.0 327.7 494.0 328.2 490.0 328.8 461.6 329.3 479.5 329.8 463.4 330.3 488.9 330.8 486.4 331.3 471.6 331.8 495.4 332.3 465.2 332.8 461.6 333.3 449.5 333.8 473.4 334.4 467.0 334.9 482.2 335.4 480.9 335.9 493.7 336.4 471.2 336.9 502.8 337.4 452.8 337.9 461.6 338.4 490.8 338.9 483.0 339.4 487.9 339.9 489.1 340.5 472.0 341.0 488.0 341.5 461.0 342.0 477.9 342.5 468.9 343.0 495.2 343.5 490.3 344.0 469.6 344.5 495.4 345.0 477.3 345.5 469.2 346.1 493.0 346.6 488.8 347.1 505.2 347.6 490.8 348.1 471.4 348.6 468.2 349.1 454.4 349.6 479.9 350.1 479.5 350.6 485.4 351.1 471.7 351.7 495.4 352.2 479.2 352.7 476.4 353.2 464.3 353.7 488.1 354.2 495.4 354.7 484.7 355.2 471.3 355.7 476.8 356.2 484.1 356.7 455.2 357.2 483.1 357.8 469.6 358.3 490.2 358.8 504.4 359.3 474.4 359.8 468.4 360.3 473.5 360.8 472.4 361.3 482.9 361.8 462.4 362.3 486.5 362.8 493.8 363.4 477.1 363.9 459.3 364.4 480.7 364.9 470.5 365.4 484.7 365.9 474.2 366.4 502.8 366.9 478.8 367.4 488.2 367.9 480.2 368.4 493.2 368.9 469.2 369.5 480.7 370.0 471.6 370.5 488.7 371.0 497.0 371.5 461.6 372.0 474.1 372.5 473.5 373.0 470.8 373.5 495.4 374.0 483.1 374.5 478.6 375.1 494.6 375.6 477.5 376.1 486.0 376.6 471.3 377.1 462.6 377.6 476.8 378.1 475.4 378.6 480.6 379.1 492.1 379.6 489.4 380.1 459.3 380.6 479.6 381.2 477.8 381.7 491.4 382.2 469.9 382.7 483.9 383.2 473.0 383.7 469.2 384.2 483.7 384.7 476.3 385.2 483.1 385.7 485.1 386.2 476.2 386.8 492.1 387.3 481.1 387.8 475.0 388.3 486.3 388.8 475.2 389.3 486.8 389.8 457.7 390.3 488.5 390.8 476.8 391.3 470.1 391.8 478.1 392.4 498.7 392.9 465.7 393.4 485.0 393.9 469.2 394.4 475.7 394.9 485.0 395.4 473.0 395.9 477.0 396.4 461.8 396.9 508.5 397.4 495.3 397.9 475.2 398.5 489.1 399.0 480.1 399.5 453.6 400.0 481.0 400.5 490.7 401.0 473.6 401.5 495.4 402.0 472.0 402.5 462.0 403.0 458.5 403.5 487.7 404.1 478.6 404.6 495.4 405.1 482.0 405.6 490.5 406.1 490.1 406.6 464.3 407.1 491.1 407.6 477.5 408.1 495.4 408.6 489.3 409.1 479.6 409.6 487.2 410.2 468.1 410.7 464.3 411.2 474.2 411.7 472.5 412.2 490.0 412.7 481.8 413.2 465.9 413.7 492.5 414.2 489.2 414.7 495.4 415.2 481.2 415.8 461.8 416.3 469.8 416.8 481.9 417.3 492.5 417.8 478.0 418.3 481.7 418.8 472.7 419.3 477.9 419.8 468.9 420.3 463.4 420.8 485.6 421.3 480.9 421.9 483.9 422.4 475.6 422.9 495.4 423.4 493.7 423.9 495.4 424.4 466.7 424.9 472.4 425.4 487.2 425.9 464.9 426.4 478.5 426.9 487.9 427.5 476.3 428.0 477.7 428.5 467.5 429.0 469.2 429.5 487.1 430.0 499.5 430.5 479.7 431.0 468.1 431.5 486.2 432.0 444.6 432.5 466.4 433.1 482.5 433.6 484.7 434.1 479.7 434.6 493.2 435.1 464.7 435.6 477.2 436.1 497.0 436.6 484.7 437.1 477.0 437.6 462.6 438.1 463.8 438.6 488.7 439.2 467.6 439.7 478.4 440.2 444.6 440.7 518.4 441.2 480.2 441.7 482.7 442.2 473.5 442.7 483.4 443.2 462.6 443.7 470.4 444.2 476.8 444.8 483.0 445.3 477.1 445.8 518.4 446.3 480.5 446.8 479.7 447.3 464.8 447.8 479.3 448.3 470.0 448.8 471.2 449.3 466.8 449.8 497.0 450.3 470.2 450.9 495.4 451.4 487.3 451.9 478.3 452.4 477.7 452.9 462.6 453.4 491.1 453.9 495.4 454.4 482.8 454.9 470.8 455.4 461.6 455.9 494.0 456.5 478.8 457.0 488.1 457.5 470.8 458.0 507.7 458.5 475.3 459.0 478.6 459.5 485.7 460.0 486.0 460.5 482.2 461.0 471.0 461.5 456.1 462.1 470.0 462.6 481.4 463.1 493.8 463.6 476.2 464.1 478.9 464.6 478.7 465.1 488.0 465.6 492.9 466.1 472.5 466.6 481.4 467.1 477.8 467.6 490.8 468.2 481.3 468.7 487.2 469.2 467.6 469.7 484.5 470.2 466.7 470.7 473.2 471.2 479.0 471.7 488.8 472.2 463.4 472.7 486.9 473.2 475.1 473.8 503.6 474.3 472.0 474.8 471.9 475.3 485.4 475.8 485.6 476.3 460.2 476.8 476.7 477.3 470.5 477.8 475.6 478.3 490.5 478.8 473.2 479.3 483.1 479.9 475.7 480.4 469.2 480.9 477.5 481.4 475.9 481.9 463.4 482.4 485.4 482.9 477.9 483.4 492.1 483.9 480.7 484.4 488.2 484.9 495.4 485.5 485.5 486.0 469.7 486.5 479.7 487.0 482.6 487.5 497.0 488.0 470.8 488.5 480.0 489.0 481.6 489.5 474.3 490.0 464.3 490.5 475.4 491.0 477.0 491.6 494.2 492.1 482.6 492.6 492.1 493.1 484.1 493.6 484.1 494.1 458.5 494.6 472.6 495.1 461.6 495.6 487.5 496.1 477.2 496.6 461.6 497.2 486.0 497.7 505.2 498.2 467.5 498.7 467.8 499.2 485.6 499.7 473.5 500.2 471.5 500.7 483.0 501.2 492.1 501.7 486.5 502.2 469.2 502.8 474.0 503.3 471.8 503.8 487.0 504.3 466.4 504.8 511.8 505.3 478.9 505.8 463.4 506.3 487.9 506.8 495.4 507.3 484.2 507.8 479.8 508.3 465.1 508.9 498.7 509.4 489.7 509.9 473.1 510.4 488.8 510.9 474.2 511.4 464.3 511.9 475.2 512.4 483.4 512.9 465.9 513.4 474.3 513.9 492.1 514.5 475.8 515.0 450.3 515.5 472.3 516.0 466.9 516.5 476.2 517.0 481.1 517.5 481.5 518.0 498.7 518.5 468.8 519.0 480.7 519.5 489.5 520.0 456.1 520.6 481.1 521.1 476.5 521.6 461.6 522.1 487.2 522.6 481.1 523.1 486.7 523.6 477.9 524.1 493.8 524.6 495.4 525.1 456.9 525.6 483.1 526.2 481.8 526.7 487.2 527.2 485.5 527.7 481.2 528.2 480.7 528.7 470.2 529.2 495.4 529.7 475.5 530.2 452.0 530.7 493.5 531.2 476.7 531.8 476.5 532.3 476.9 532.8 480.5 533.3 479.3 533.8 464.3 534.3 478.2 534.8 506.1 535.3 495.4 535.8 482.2 536.3 486.8 536.8 494.3 537.3 482.7 537.9 481.1 538.4 495.4 538.9 495.4 539.4 438.0 539.9 500.3 540.4 466.8 540.9 483.3 541.4 468.4 541.9 483.3 542.4 490.0 542.9 477.1 543.5 465.9 544.0 493.8 544.5 483.1 545.0 475.5 545.5 480.2 546.0 476.8 546.5 453.6 547.0 463.6 547.5 500.3 548.0 480.1 548.5 470.1 549.0 468.5 549.6 475.8 550.1 461.0 550.6 483.2 551.1 484.7 551.6 485.3 552.1 502.0 552.6 483.4 553.1 465.9 553.6 486.3 554.1 470.0 554.6 479.5 555.2 466.2 555.7 473.3 556.2 475.3 556.7 423.6 557.2 483.4 557.7 481.9 558.2 490.5 558.7 485.4 559.2 473.4 559.7 472.9 560.2 481.0 560.7 475.2 561.3 467.5 561.8 491.9 562.3 480.7 562.8 495.4 563.3 481.7 563.8 476.3 564.3 487.2 564.8 456.9 565.3 479.9 565.8 475.8 566.3 483.5 566.9 485.3 567.4 479.7 567.9 488.9 568.4 452.8 568.9 480.8 569.4 490.3 569.9 465.7 570.4 488.7 570.9 461.6 571.4 480.6 571.9 446.2 572.5 508.5 573.0 474.4 573.5 477.2 574.0 481.7 574.5 490.0 575.0 483.0 575.5 491.7 576.0 464.3 576.5 487.5 577.0 497.0 577.5 480.5 578.0 494.7 578.6 461.6 579.1 468.4 579.6 463.4 580.1 483.7 580.6 484.2 581.1 468.9 581.6 492.1 582.1 483.4 582.6 469.2 583.1 475.7 583.6 484.3 584.2 483.2 584.7 485.6 585.2 470.1 585.7 486.0 586.2 480.8 586.7 497.0 587.2 472.6 587.7 471.2 588.2 456.1 588.7 477.4 589.2 475.2 589.7 470.9 590.3 465.0 590.8 505.2 591.3 485.2 591.8 476.3 592.3 461.0 592.8 465.3 593.3 480.0 593.8 479.6 594.3 475.3 594.8 483.1 595.3 471.7 595.9 471.5 596.4 467.5 596.9 490.5 597.4 482.1 597.9 482.2 598.4 473.6 598.9 475.8 599.4 495.4 599.9 472.6 600.4 469.9 600.9 453.6 601.4 495.4 602.0 478.4 602.5 488.9 603.0 489.2 603.5 492.1 604.0 468.0 604.5 479.3 605.0 485.7 605.5 518.4 606.0 474.3 606.5 461.8 607.0 482.9 607.6 481.3 608.1 483.4 608.6 476.3 609.1 470.0 609.6 500.3 610.1 463.4 610.6 475.9 611.1 487.9 611.6 480.1 612.1 466.2 612.6 474.7 613.2 469.2 613.7 468.4 614.2 447.0 614.7 476.4 615.2 488.9 615.7 484.2 616.2 484.2 616.7 473.0 617.2 486.4 617.7 477.5 618.2 467.5 618.7 468.9 619.3 473.2 619.8 468.3 620.3 492.1 620.8 482.6 621.3 467.5 621.8 463.5 622.3 448.7 622.8 488.6 623.3 495.2 623.8 467.8 624.3 490.2 624.9 476.5 625.4 476.6 625.9 461.0 626.4 505.2 626.9 483.5 627.4 471.7 627.9 466.1 628.4 466.7 628.9 492.6 629.4 490.8 629.9 457.7 630.4 501.1 631.0 472.5 631.5 495.4 632.0 478.2 632.5 471.4 633.0 479.0 633.5 456.1 634.0 495.4 634.5 465.6 635.0 493.8 635.5 482.7 636.0 483.8 636.6 452.8 637.1 467.6 637.6 481.0 638.1 491.5 638.6 474.4 639.1 453.6 639.6 480.4 640.1 490.5 640.6 489.3 641.1 467.2 641.6 490.5 642.2 466.0 642.7 464.3 643.2 481.1 643.7 479.0 644.2 475.0 644.7 511.0 645.2 461.9 645.7 480.1 646.2 441.0 646.7 470.3 647.2 478.3 647.7 485.0 648.3 492.1 648.8 474.0 649.3 485.1 649.8 479.0 650.3 471.6 650.8 467.8 651.3 464.3 651.8 479.4 652.3 485.4 652.8 481.6 653.3 488.9 653.9 476.0 654.4 480.6 654.9 466.8 655.4 470.0 655.9 493.8 656.4 462.6 656.9 477.6 657.4 496.2 657.9 469.9 658.4 489.7 658.9 472.6 659.4 473.3 660.0 489.0 660.5 461.6 661.0 485.6 661.5 497.0 662.0 454.4 662.5 482.5 663.0 487.2 663.5 485.4 664.0 474.7 664.5 494.0 665.0 480.0 665.6 478.6 666.1 478.1 666.6 459.3 667.1 461.6 667.6 478.4 668.1 479.6 668.6 485.3 669.1 466.1 669.6 511.0 670.1 465.1 670.6 488.1 671.1 488.1 671.7 469.6 672.2 476.5 672.7 471.8 673.2 487.5 673.7 479.1 674.2 493.8 674.7 459.3 675.2 486.1 675.7 495.4 676.2 481.2 676.7 468.5 677.3 462.0 677.8 495.4 678.3 473.8 678.8 471.0 679.3 469.2 679.8 492.1 680.3 474.1 680.8 478.8 681.3 464.1 681.8 484.1 682.3 461.6 682.9 478.5 683.4 445.4 683.9 468.6 684.4 478.1 684.9 504.4 685.4 473.1 685.9 482.3 686.4 480.5 686.9 466.7 687.4 488.4 687.9 474.4 688.4 467.2 689.0 471.9 689.5 466.5 690.0 486.0 690.5 470.7 691.0 467.9 691.5 493.5" fill="none" stroke="#000" stroke-width="1.3" stroke-linejoin="round"/>
<path d="M81.5 470.8 82.0 481.6 82.5 483.1 83.0 480.2 83.5 483.4 84.0 472.1 84.6 474.8 85.1 475.8 85.6 472.5 86.1 481.0 86.6 484.1 87.1 477.0 87.6 477.2 88.1 482.1 88.6 476.2 89.1 472.3 89.6 480.8 90.1 477.7 90.7 477.0 91.2 476.4 91.7 474.2 92.2 476.0 92.7 472.6 93.2 481.9 93.7 480.5 94.2 475.0 94.7 480.4 95.2 480.9 95.7 478.7 96.3 477.0 96.8 480.6 97.3 476.0 97.8 472.6 98.3 486.0 98.8 488.2 99.3 475.3 99.8 481.9 100.3 472.3 100.8 466.7 101.3 479.1 101.9 480.1 102.4 478.5 102.9 477.3 103.4 478.7 103.9 482.3 104.4 476.7 104.9 487.0 105.4 476.8 105.9 478.1 106.4 473.0 106.9 477.8 107.4 476.4 108.0 482.5 108.5 477.8 109.0 475.2 109.5 474.2 110.0 478.0 110.5 471.8 111.0 473.1 111.5 481.3 112.0 488.9 112.5 483.1 113.0 478.2 113.6 477.8 114.1 479.7 114.6 480.3 115.1 475.8 115.6 481.0 116.1 487.5 116.6 479.8 117.1 474.2 117.6 482.1 118.1 475.8 118.6 476.1 119.1 478.6 119.7 476.8 120.2 482.4 120.7 478.2 121.2 472.2 121.7 478.8 122.2 483.2 122.7 472.3 123.2 484.3 123.7 471.5 124.2 478.1 124.7 475.9 125.3 477.0 125.8 478.4 126.3 473.9 126.8 478.8 127.3 482.0 127.8 478.3 128.3 485.9 128.8 479.1 129.3 486.0 129.8 478.4 130.3 475.4 130.8 475.8 131.4 479.1 131.9 489.9 132.4 480.5 132.9 473.1 133.4 481.1 133.9 476.2 134.4 481.2 134.9 471.7 135.4 487.3 135.9 480.6 136.4 480.0 137.0 476.3 137.5 478.3 138.0 477.8 138.5 488.1 139.0 470.1 139.5 477.6 140.0 481.1 140.5 472.6 141.0 483.2 141.5 477.0 142.0 474.2 142.6 475.2 143.1 477.4 143.6 478.8 144.1 482.7 144.6 477.0 145.1 483.9 145.6 473.9 146.1 474.8 146.6 478.3 147.1 486.5 147.6 475.7 148.1 475.7 148.7 483.0 149.2 480.1 149.7 477.7 150.2 475.4 150.7 479.9 151.2 481.9 151.7 480.6 152.2 482.5 152.7 470.9 153.2 470.7 153.7 487.0 154.3 480.1 154.8 471.8 155.3 472.5 155.8 470.1 156.3 473.1 156.8 476.5 157.3 477.1 157.8 472.5 158.3 476.5 158.8 485.4 159.3 477.8 159.8 485.9 160.4 475.0 160.9 477.0 161.4 479.0 161.9 477.3 162.4 485.7 162.9 480.6 163.4 481.0 163.9 478.0 164.4 479.3 164.9 477.7 165.4 477.5 166.0 484.3 166.5 483.7 167.0 473.7 167.5 482.1 168.0 479.2 168.5 475.1 169.0 479.9 169.5 469.3 170.0 482.4 170.5 481.1 171.0 487.0 171.6 474.9 172.1 480.1 172.6 475.9 173.1 476.3 173.6 468.2 174.1 476.1 174.6 480.2 175.1 480.4 175.6 475.1 176.1 486.5 176.6 480.6 177.1 485.0 177.7 482.6 178.2 473.4 178.7 482.3 179.2 480.4 179.7 475.0 180.2 485.0 180.7 478.0 181.2 483.6 181.7 477.7 182.2 480.4 182.7 474.2 183.3 478.8 183.8 476.5 184.3 472.4 184.8 478.8 185.3 472.8 185.8 475.5 186.3 474.6 186.8 481.5 187.3 477.6 187.8 477.8 188.3 475.3 188.8 473.7 189.4 474.2 189.9 475.8 190.4 480.7 190.9 480.4 191.4 476.3 191.9 483.3 192.4 479.8 192.9 478.9 193.4 476.5 193.9 476.0 194.4 483.3 195.0 475.6 195.5 486.5 196.0 481.1 196.5 474.5 197.0 479.7 197.5 476.6 198.0 467.9 198.5 479.3 199.0 479.2 199.5 487.3 200.0 477.0 200.5 472.4 201.1 477.6 201.6 478.1 202.1 466.7 202.6 477.7 203.1 477.8 203.6 478.0 204.1 482.7 204.6 475.2 205.1 473.0 205.6 473.8 206.1 474.9 206.7 481.6 207.2 480.4 207.7 466.7 208.2 483.7 208.7 484.3 209.2 478.6 209.7 484.8 210.2 483.7 210.7 484.7 211.2 483.4 211.7 479.4 212.3 475.4 212.8 477.9 213.3 475.3 213.8 480.2 214.3 489.8 214.8 481.8 215.3 485.9 215.8 477.6 216.3 476.4 216.8 481.1 217.3 479.2 217.8 476.0 218.4 473.6 218.9 481.7 219.4 474.7 219.9 480.7 220.4 474.9 220.9 489.9 221.4 480.4 221.9 477.1 222.4 484.0 222.9 489.3 223.4 483.8 224.0 479.8 224.5 476.8 225.0 476.1 225.5 478.8 226.0 485.1 226.5 483.3 227.0 476.5 227.5 474.8 228.0 478.2 228.5 470.4 229.0 481.2 229.5 478.7 230.1 477.8 230.6 479.5 231.1 484.3 231.6 484.4 232.1 478.4 232.6 476.8 233.1 470.9 233.6 478.3 234.1 490.3 234.6 484.6 235.1 485.6 235.7 482.6 236.2 476.5 236.7 477.3 237.2 477.3 237.7 484.6 238.2 480.1 238.7 478.7 239.2 469.7 239.7 472.9 240.2 479.3 240.7 474.8 241.2 478.0 241.8 479.8 242.3 480.0 242.8 486.0 243.3 471.9 243.8 478.0 244.3 483.5 244.8 480.4 245.3 481.0 245.8 479.3 246.3 480.6 246.8 471.6 247.4 485.7 247.9 474.1 248.4 479.1 248.9 474.4 249.4 480.8 249.9 482.7 250.4 477.7 250.9 469.5 251.4 483.7 251.9 475.4 252.4 472.4 253.0 476.4 253.5 478.9 254.0 469.8 254.5 478.2 255.0 475.0 255.5 477.4 256.0 476.1 256.5 480.5 257.0 481.6 257.5 473.1 258.0 478.2 258.5 475.9 259.1 483.2 259.6 474.4 260.1 472.7 260.6 477.7 261.1 485.2 261.6 475.1 262.1 485.4 262.6 476.0 263.1 474.8 263.6 483.9 264.1 481.4 264.7 484.4 265.2 482.2 265.7 484.6 266.2 485.7 266.7 486.0 267.2 475.7 267.7 477.7 268.2 473.9 268.7 480.0 269.2 472.7 269.7 484.0 270.2 478.9 270.8 479.7 271.3 483.5 271.8 482.5 272.3 484.2 272.8 478.5 273.3 481.8 273.8 477.0 274.3 477.3 274.8 479.5 275.3 481.8 275.8 480.1 276.4 475.3 276.9 477.8 277.4 480.2 277.9 479.8 278.4 471.0 278.9 480.2 279.4 479.6 279.9 475.8 280.4 480.4 280.9 484.5 281.4 481.9 282.0 480.3 282.5 478.8 283.0 479.6 283.5 482.7 284.0 478.2 284.5 475.7 285.0 484.0 285.5 469.5 286.0 483.1 286.5 471.8 287.0 472.6 287.5 473.2 288.1 474.4 288.6 483.3 289.1 481.2 289.6 475.8 290.1 482.4 290.6 475.2 291.1 483.0 291.6 483.6 292.1 478.0 292.6 480.6 293.1 476.9 293.7 480.9 294.2 485.1 294.7 476.5 295.2 483.7 295.7 480.1 296.2 473.3 296.7 472.1 297.2 480.7 297.7 479.9 298.2 478.3 298.7 474.7 299.2 472.7 299.8 479.6 300.3 480.8 300.8 481.8 301.3 480.5 301.8 474.5 302.3 485.9 302.8 484.8 303.3 487.8 303.8 479.1 304.3 475.3 304.8 480.0 305.4 483.5 305.9 479.1 306.4 478.5 306.9 475.7 307.4 478.4 307.9 482.9 308.4 477.8 308.9 472.3 309.4 482.2 309.9 477.7 310.4 478.3 310.9 478.7 311.5 489.4 312.0 474.6 312.5 482.4 313.0 479.6 313.5 487.4 314.0 483.5 314.5 485.8 315.0 479.7 315.5 476.3 316.0 478.4 316.5 478.0 317.1 477.5 317.6 475.2 318.1 477.8 318.6 476.2 319.1 482.5 319.6 476.3 320.1 481.7 320.6 478.7 321.1 488.9 321.6 480.7 322.1 476.2 322.7 479.5 323.2 483.5 323.7 475.3 324.2 484.5 324.7 479.7 325.2 479.3 325.7 480.4 326.2 474.3 326.7 482.9 327.2 473.0 327.7 473.4 328.2 477.2 328.8 476.6 329.3 481.6 329.8 481.9 330.3 476.3 330.8 477.2 331.3 473.5 331.8 479.7 332.3 475.7 332.8 483.8 333.3 475.6 333.8 475.6 334.4 474.9 334.9 482.0 335.4 483.4 335.9 479.9 336.4 478.2 336.9 473.9 337.4 474.6 337.9 477.9 338.4 489.5 338.9 469.8 339.4 471.9 339.9 476.1 340.5 475.0 341.0 477.7 341.5 477.6 342.0 478.3 342.5 480.6 343.0 470.3 343.5 483.7 344.0 477.0 344.5 486.8 345.0 476.1 345.5 476.2 346.1 483.7 346.6 471.1 347.1 477.4 347.6 471.8 348.1 475.1 348.6 482.8 349.1 481.5 349.6 472.8 350.1 485.9 350.6 469.7 351.1 474.2 351.7 478.6 352.2 480.2 352.7 473.1 353.2 486.4 353.7 475.1 354.2 487.1 354.7 475.1 355.2 475.8 355.7 479.4 356.2 481.4 356.7 480.8 357.2 476.7 357.8 477.3 358.3 480.6 358.8 477.6 359.3 477.3 359.8 472.7 360.3 481.7 360.8 477.8 361.3 485.0 361.8 474.9 362.3 483.9 362.8 479.4 363.4 476.3 363.9 478.8 364.4 482.4 364.9 482.6 365.4 475.0 365.9 474.9 366.4 482.2 366.9 470.0 367.4 481.2 367.9 479.1 368.4 476.4 368.9 476.9 369.5 477.7 370.0 482.6 370.5 476.3 371.0 483.0 371.5 482.2 372.0 484.1 372.5 481.2 373.0 479.1 373.5 478.6 374.0 480.8 374.5 475.9 375.1 476.5 375.6 477.5 376.1 479.0 376.6 488.7 377.1 475.6 377.6 482.5 378.1 480.5 378.6 478.6 379.1 477.5 379.6 479.8 380.1 477.5 380.6 479.9 381.2 484.4 381.7 481.5 382.2 483.3 382.7 486.5 383.2 479.1 383.7 476.6 384.2 479.2 384.7 484.0 385.2 480.7 385.7 476.9 386.2 485.3 386.8 482.7 387.3 480.8 387.8 484.8 388.3 480.9 388.8 486.8 389.3 483.3 389.8 475.5 390.3 466.7 390.8 480.3 391.3 474.7 391.8 483.4 392.4 479.8 392.9 479.0 393.4 480.6 393.9 476.1 394.4 475.7 394.9 478.8 395.4 482.5 395.9 480.6 396.4 479.1 396.9 481.2 397.4 478.4 397.9 478.8 398.5 477.7 399.0 479.9 399.5 476.2 400.0 472.2 400.5 481.3 401.0 475.3 401.5 482.0 402.0 478.7 402.5 486.7 403.0 478.1 403.5 484.5 404.1 485.6 404.6 479.6 405.1 470.5 405.6 481.7 406.1 482.9 406.6 476.5 407.1 475.8 407.6 486.8 408.1 473.4 408.6 482.7 409.1 487.7 409.6 478.8 410.2 476.9 410.7 480.5 411.2 478.9 411.7 471.3 412.2 481.0 412.7 477.5 413.2 475.0 413.7 480.7 414.2 481.5 414.7 481.7 415.2 481.3 415.8 482.0 416.3 478.8 416.8 485.3 417.3 474.2 417.8 476.0 418.3 483.4 418.8 478.5 419.3 480.1 419.8 475.3 420.3 479.0 420.8 480.1 421.3 474.6 421.9 481.6 422.4 479.0 422.9 473.5 423.4 483.9 423.9 481.5 424.4 480.0 424.9 468.0 425.4 475.6 425.9 472.9 426.4 478.0 426.9 480.7 427.5 475.3 428.0 473.6 428.5 480.4 429.0 476.6 429.5 473.2 430.0 477.2 430.5 479.3 431.0 485.6 431.5 475.8 432.0 476.4 432.5 480.4 433.1 479.4 433.6 485.1 434.1 475.5 434.6 477.5 435.1 482.3 435.6 473.1 436.1 476.8 436.6 479.4 437.1 468.9 437.6 471.8 438.1 474.7 438.6 484.7 439.2 480.8 439.7 480.0 440.2 482.1 440.7 478.3 441.2 477.3 441.7 476.7 442.2 476.1 442.7 484.2 443.2 477.3 443.7 481.9 444.2 477.8 444.8 471.4 445.3 473.2 445.8 479.8 446.3 478.5 446.8 472.7 447.3 470.8 447.8 476.3 448.3 474.1 448.8 477.2 449.3 475.7 449.8 479.8 450.3 475.7 450.9 478.6 451.4 480.5 451.9 484.1 452.4 480.4 452.9 478.5 453.4 478.0 453.9 472.7 454.4 480.0 454.9 478.1 455.4 481.6 455.9 473.2 456.5 469.7 457.0 473.7 457.5 478.9 458.0 480.0 458.5 480.8 459.0 481.4 459.5 476.6 460.0 482.9 460.5 478.2 461.0 479.9 461.5 473.5 462.1 479.6 462.6 476.9 463.1 475.6 463.6 484.5 464.1 486.2 464.6 481.7 465.1 477.9 465.6 482.0 466.1 473.1 466.6 482.8 467.1 478.8 467.6 476.9 468.2 483.9 468.7 482.5 469.2 482.2 469.7 470.0 470.2 476.2 470.7 483.9 471.2 478.3 471.7 474.1 472.2 487.0 472.7 471.8 473.2 482.9 473.8 477.5 474.3 482.8 474.8 479.9 475.3 483.7 475.8 486.7 476.3 480.4 476.8 476.3 477.3 479.5 477.8 471.0 478.3 477.5 478.8 476.4 479.3 473.7 479.9 475.1 480.4 481.2 480.9 478.5 481.4 482.6 481.9 476.3 482.4 480.9 482.9 481.9 483.4 475.3 483.9 481.7 484.4 474.6 484.9 480.4 485.5 474.9 486.0 478.0 486.5 485.1 487.0 482.8 487.5 476.6 488.0 479.3 488.5 474.3 489.0 469.9 489.5 478.4 490.0 485.7 490.5 477.0 491.0 474.3 491.6 476.3 492.1 476.3 492.6 477.4 493.1 481.6 493.6 477.5 494.1 479.8 494.6 478.2 495.1 479.6 495.6 476.7 496.1 483.6 496.6 475.0 497.2 470.0 497.7 485.9 498.2 483.3 498.7 474.4 499.2 481.8 499.7 478.8 500.2 478.8 500.7 478.3 501.2 490.3 501.7 484.2 502.2 478.8 502.8 470.2 503.3 474.1 503.8 473.1 504.3 486.5 504.8 479.1 505.3 479.7 505.8 471.1 506.3 477.2 506.8 477.3 507.3 478.3 507.8 476.9 508.3 484.6 508.9 477.7 509.4 481.1 509.9 477.2 510.4 473.1 510.9 479.7 511.4 484.7 511.9 475.8 512.4 483.6 512.9 486.6 513.4 472.5 513.9 470.4 514.5 482.9 515.0 479.1 515.5 468.2 516.0 484.4 516.5 482.2 517.0 477.1 517.5 490.3 518.0 482.3 518.5 473.9 519.0 475.2 519.5 480.2 520.0 479.2 520.6 474.5 521.1 476.3 521.6 473.0 522.1 470.3 522.6 478.4 523.1 470.3 523.6 475.1 524.1 480.2 524.6 476.1 525.1 481.5 525.6 475.9 526.2 476.2 526.7 477.9 527.2 471.4 527.7 482.8 528.2 475.3 528.7 479.5 529.2 476.2 529.7 475.3 530.2 471.5 530.7 477.2 531.2 473.2 531.8 474.2 532.3 473.2 532.8 475.1 533.3 482.3 533.8 471.0 534.3 476.0 534.8 473.6 535.3 479.4 535.8 479.5 536.3 476.9 536.8 479.8 537.3 476.8 537.9 474.6 538.4 475.5 538.9 473.3 539.4 484.7 539.9 482.5 540.4 478.5 540.9 474.4 541.4 473.3 541.9 476.4 542.4 469.3 542.9 482.5 543.5 475.2 544.0 479.8 544.5 484.2 545.0 479.8 545.5 481.6 546.0 486.4 546.5 480.5 547.0 478.3 547.5 479.8 548.0 472.1 548.5 483.3 549.0 473.1 549.6 478.2 550.1 483.8 550.6 480.2 551.1 477.7 551.6 475.7 552.1 484.9 552.6 477.9 553.1 477.2 553.6 473.0 554.1 477.4 554.6 481.9 555.2 475.3 555.7 472.8 556.2 478.4 556.7 482.9 557.2 476.8 557.7 477.4 558.2 475.9 558.7 481.5 559.2 479.5 559.7 471.6 560.2 475.9 560.7 483.7 561.3 478.0 561.8 486.2 562.3 480.2 562.8 480.6 563.3 480.1 563.8 475.7 564.3 481.3 564.8 485.6 565.3 475.4 565.8 466.7 566.3 477.6 566.9 474.8 567.4 475.4 567.9 483.8 568.4 476.5 568.9 478.1 569.4 480.2 569.9 474.7 570.4 478.7 570.9 486.3 571.4 478.5 571.9 489.2 572.5 482.1 573.0 481.9 573.5 481.7 574.0 485.5 574.5 475.6 575.0 472.8 575.5 475.2 576.0 475.3 576.5 470.6 577.0 483.8 577.5 475.3 578.0 484.0 578.6 480.3 579.1 479.6 579.6 475.5 580.1 480.3 580.6 472.0 581.1 479.9 581.6 477.9 582.1 479.7 582.6 481.8 583.1 480.7 583.6 480.5 584.2 475.2 584.7 476.8 585.2 482.2 585.7 476.6 586.2 479.8 586.7 479.4 587.2 475.2 587.7 479.3 588.2 474.5 588.7 481.8 589.2 481.3 589.7 476.7 590.3 481.4 590.8 476.0 591.3 483.6 591.8 478.3 592.3 480.1 592.8 482.6 593.3 475.6 593.8 477.2 594.3 482.9 594.8 483.0 595.3 473.9 595.9 481.1 596.4 481.8 596.9 476.3 597.4 469.8 597.9 479.5 598.4 475.7 598.9 472.5 599.4 482.1 599.9 473.6 600.4 478.6 600.9 479.9 601.4 477.1 602.0 477.0 602.5 478.1 603.0 482.2 603.5 481.4 604.0 484.2 604.5 482.4 605.0 482.2 605.5 481.6 606.0 476.6 606.5 479.9 607.0 479.8 607.6 479.2 608.1 482.7 608.6 474.7 609.1 483.2 609.6 472.1 610.1 476.9 610.6 473.7 611.1 471.4 611.6 476.4 612.1 483.2 612.6 482.3 613.2 477.6 613.7 477.8 614.2 487.0 614.7 477.7 615.2 485.7 615.7 479.4 616.2 483.2 616.7 476.4 617.2 484.5 617.7 471.7 618.2 478.2 618.7 466.7 619.3 477.0 619.8 478.2 620.3 481.6 620.8 486.2 621.3 479.1 621.8 476.9 622.3 475.4 622.8 484.2 623.3 472.7 623.8 477.7 624.3 476.9 624.9 476.3 625.4 479.2 625.9 474.6 626.4 484.2 626.9 480.8 627.4 476.1 627.9 476.7 628.4 478.1 628.9 476.4 629.4 471.5 629.9 479.1 630.4 478.5 631.0 475.8 631.5 475.3 632.0 480.7 632.5 478.4 633.0 475.3 633.5 481.8 634.0 473.3 634.5 481.3 635.0 479.9 635.5 473.8 636.0 472.8 636.6 476.1 637.1 483.4 637.6 482.5 638.1 482.7 638.6 477.9 639.1 475.9 639.6 481.5 640.1 475.4 640.6 476.7 641.1 478.4 641.6 479.2 642.2 487.6 642.7 480.5 643.2 475.9 643.7 483.3 644.2 486.2 644.7 475.4 645.2 482.2 645.7 479.5 646.2 483.4 646.7 477.3 647.2 476.5 647.7 473.7 648.3 481.1 648.8 471.3 649.3 487.7 649.8 476.7 650.3 478.1 650.8 483.8 651.3 475.1 651.8 483.7 652.3 477.1 652.8 476.8 653.3 475.1 653.9 475.6 654.4 487.1 654.9 482.8 655.4 477.7 655.9 486.6 656.4 473.8 656.9 476.4 657.4 473.7 657.9 476.5 658.4 471.3 658.9 481.1 659.4 474.5 660.0 473.3 660.5 483.1 661.0 469.9 661.5 474.8 662.0 478.9 662.5 480.2 663.0 475.1 663.5 475.6 664.0 488.3 664.5 476.6 665.0 480.1 665.6 479.7 666.1 488.0 666.6 476.7 667.1 475.1 667.6 476.0 668.1 476.5 668.6 481.7 669.1 476.4 669.6 481.1 670.1 477.0 670.6 476.5 671.1 477.8 671.7 471.9 672.2 482.6 672.7 485.9 673.2 474.6 673.7 481.4 674.2 483.7 674.7 476.2 675.2 476.1 675.7 485.0 676.2 479.8 676.7 474.6 677.3 469.5 677.8 480.4 678.3 471.7 678.8 475.8 679.3 479.9 679.8 485.8 680.3 479.7 680.8 479.3 681.3 475.8 681.8 480.8 682.3 478.2 682.9 473.4 683.4 471.7 683.9 486.7 684.4 486.4 684.9 481.5 685.4 478.2 685.9 472.5 686.4 488.8 686.9 483.3 687.4 477.7 687.9 480.9 688.4 476.0 689.0 477.1 689.5 470.8 690.0 480.7 690.5 479.9 691.0 476.8 691.5 479.6" fill="none" stroke="#00ff00" stroke-width="1.25" stroke-linejoin="round"/>
<line x1="81.5" y1="478.5" x2="691.5" y2="478.5" stroke="#e81010" stroke-width="1.2"/>
<path d="M81.5 419.3v6M81.5 546.2v-6M183.2 419.3v6M183.2 546.2v-6M284.8 419.3v6M284.8 546.2v-6M386.5 419.3v6M386.5 546.2v-6M488.2 419.3v6M488.2 546.2v-6M589.8 419.3v6M589.8 546.2v-6M691.5 419.3v6M691.5 546.2v-6M81.5 419.3h6M691.5 419.3h-6M81.5 461.6h6M691.5 461.6h-6M81.5 503.9h6M691.5 503.9h-6M81.5 546.2h6M691.5 546.2h-6" fill="none" stroke="#222" stroke-width="1.1"/>
<rect x="81.5" y="419.3" width="610.0" height="126.9" fill="none" stroke="#111" stroke-width="1.35"/>
<text transform="translate(77.30 73.40) scale(0.98 1.0)" font-size="17.6" text-anchor="end" fill="#333">1</text>
<text transform="translate(77.30 116.30) scale(0.98 1.0)" font-size="17.6" text-anchor="end" textLength="20.5" fill="#333">0.5</text>
<text transform="translate(77.30 158.80) scale(0.98 1.0)" font-size="17.6" text-anchor="end" fill="#333">0</text>
<text transform="translate(77.30 207.80) scale(0.98 1.0)" font-size="17.6" text-anchor="end" fill="#333">-0.5</text>
<text transform="translate(85.50 218.90) scale(0.98 1.0)" font-size="17.6" text-anchor="middle" fill="#333">0</text>
<text transform="translate(189.17 218.90) scale(0.98 1.0)" font-size="17.6" text-anchor="middle" fill="#333">200</text>
<text transform="translate(290.83 218.90) scale(0.98 1.0)" font-size="17.6" text-anchor="middle" fill="#333">400</text>
<text transform="translate(392.50 218.90) scale(0.98 1.0)" font-size="17.6" text-anchor="middle" fill="#333">600</text>
<text transform="translate(494.17 218.90) scale(0.98 1.0)" font-size="17.6" text-anchor="middle" fill="#333">800</text>
<text transform="translate(595.83 218.90) scale(0.98 1.0)" font-size="17.6" text-anchor="middle" fill="#333">1000</text>
<text transform="translate(697.50 218.90) scale(0.98 1.0)" font-size="17.6" text-anchor="middle" fill="#333">1200</text>
<text transform="translate(77.30 251.20) scale(0.98 1.0)" font-size="17.6" text-anchor="end" fill="#333">1</text>
<text transform="translate(77.30 293.83) scale(0.98 1.0)" font-size="17.6" text-anchor="end" textLength="20.5" fill="#333">0.5</text>
<text transform="translate(77.30 337.17) scale(0.98 1.0)" font-size="17.6" text-anchor="end" fill="#333">0</text>
<text transform="translate(82.50 386.40) scale(0.98 1.0)" font-size="17.6" text-anchor="end" fill="#333">-0.5</text>
<text transform="translate(85.50 396.10) scale(0.98 1.0)" font-size="17.6" text-anchor="middle" fill="#333">0</text>
<text transform="translate(189.17 396.10) scale(0.98 1.0)" font-size="17.6" text-anchor="middle" fill="#333">200</text>
<text transform="translate(290.83 396.10) scale(0.98 1.0)" font-size="17.6" text-anchor="middle" fill="#333">400</text>
<text transform="translate(392.50 396.10) scale(0.98 1.0)" font-size="17.6" text-anchor="middle" fill="#333">600</text>
<text transform="translate(494.17 396.10) scale(0.98 1.0)" font-size="17.6" text-anchor="middle" fill="#333">800</text>
<text transform="translate(595.83 396.10) scale(0.98 1.0)" font-size="17.6" text-anchor="middle" fill="#333">1000</text>
<text transform="translate(697.50 396.10) scale(0.98 1.0)" font-size="17.6" text-anchor="middle" fill="#333">1200</text>
<text transform="translate(77.30 429.40) scale(0.98 1.0)" font-size="17.6" text-anchor="end" fill="#333">1</text>
<text transform="translate(77.30 470.90) scale(0.98 1.0)" font-size="17.6" text-anchor="end" textLength="20.5" fill="#333">0.5</text>
<text transform="translate(77.30 513.20) scale(0.98 1.0)" font-size="17.6" text-anchor="end" fill="#333">0</text>
<text transform="translate(82.50 562.30) scale(0.98 1.0)" font-size="17.6" text-anchor="end" fill="#333">-0.5</text>
<text transform="translate(85.50 573.10) scale(0.98 1.0)" font-size="17.6" text-anchor="middle" fill="#333">0</text>
<text transform="translate(189.17 573.10) scale(0.98 1.0)" font-size="17.6" text-anchor="middle" fill="#333">200</text>
<text transform="translate(290.83 573.10) scale(0.98 1.0)" font-size="17.6" text-anchor="middle" fill="#333">400</text>
<text transform="translate(392.50 573.10) scale(0.98 1.0)" font-size="17.6" text-anchor="middle" fill="#333">600</text>
<text transform="translate(494.17 573.10) scale(0.98 1.0)" font-size="17.6" text-anchor="middle" fill="#333">800</text>
<text transform="translate(595.83 573.10) scale(0.98 1.0)" font-size="17.6" text-anchor="middle" fill="#333">1000</text>
<text transform="translate(697.50 573.10) scale(0.98 1.0)" font-size="17.6" text-anchor="middle" fill="#333">1200</text>
<text transform="translate(19.80 145.40) rotate(-90)" font-size="19" text-anchor="middle" fill="#111">Mean in</text>
<text transform="translate(42.30 145.90) rotate(-90)" font-size="19" text-anchor="middle" fill="#111">latitude(m)</text>
<text transform="translate(20.60 320.20) rotate(-90)" font-size="19" text-anchor="middle" fill="#111">Mean in</text>
<text transform="translate(42.80 322.80) rotate(-90)" font-size="19" text-anchor="middle" textLength="101.5" fill="#111">longitude(m)</text>
<text transform="translate(19.20 500.10) rotate(-90)" font-size="19" text-anchor="middle" fill="#111">Mean in</text>
<text transform="translate(42.20 500.00) rotate(-90)" font-size="19" text-anchor="middle" textLength="86.5" fill="#111">altitude(m)</text>
<text transform="translate(366.50 600.90)" font-size="19" text-anchor="middle" fill="#111">Time(s)</text>
<rect x="529.5" y="8.5" width="162" height="56" fill="#fff"/>
<path d="M529.5 64.5V8.2" stroke="#222" stroke-width="1.2"/>
<path d="M529.5 8.1H691.3V64.5" fill="none" stroke="#aaa" stroke-width="1.5"/>
<path d="M535.3 19.3H578" stroke="#ff4545" stroke-width="1.4"/>
<path d="M535.3 37.2H578" stroke="#777" stroke-width="1.3"/>
<path d="M535.8 55.1H578" stroke="#44ee44" stroke-width="1.3"/>
<path d="M81.5 64.5H691.5" stroke="#111" stroke-width="1.2"/>
<text transform="translate(584.60 25.80)" font-size="17.4" fill="#111">Real value</text>
<text transform="translate(584.60 44.40)" font-size="17.4" fill="#111">LM-KF</text>
<text transform="translate(584.60 62.40)" font-size="17.4" fill="#111">LM-RWKF</text>
</g></svg></div></body></html>
